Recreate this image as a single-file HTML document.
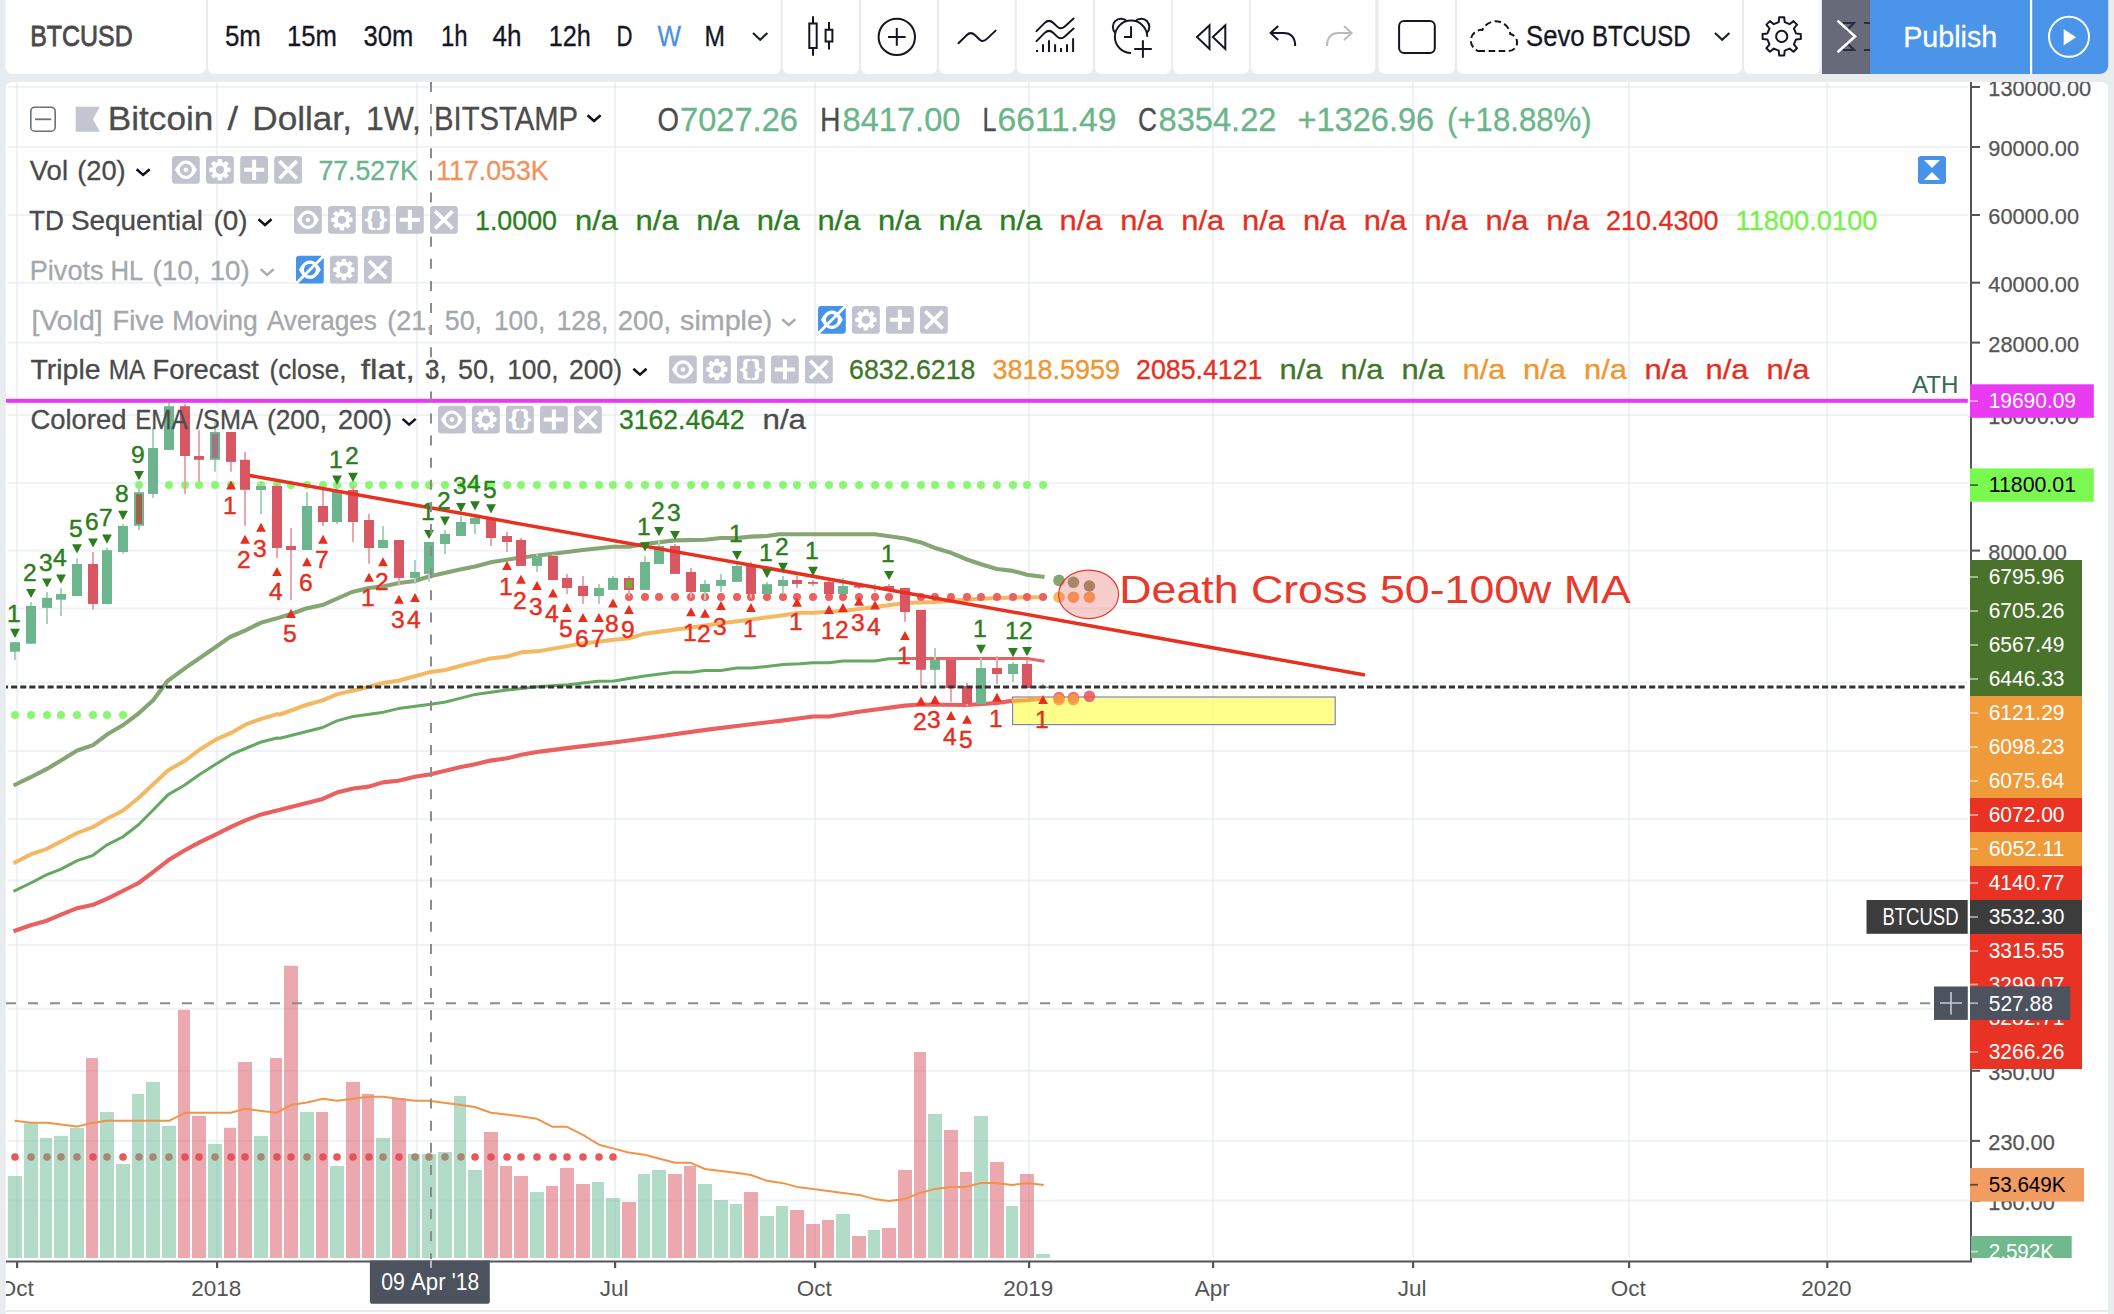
<!DOCTYPE html>
<html><head><meta charset="utf-8"><title>BTCUSD chart</title>
<style>
html,body{margin:0;padding:0;}
body{width:2114px;height:1314px;overflow:hidden;background:#e9ecef;font-family:'Liberation Sans', Arial, sans-serif;}
svg{display:block;position:absolute;left:0;top:0;}
text{font-family:'Liberation Sans', Arial, sans-serif;}
</style></head><body>
<svg width="2114" height="1314" viewBox="0 0 2114 1314">
<rect x="0" y="0" width="2114" height="1314" fill="#e9ecef"/>
<path d="M5.7 1314V88a6 6 0 0 1 6 -6H2102.1a6 6 0 0 1 6 6V1314z" fill="#fff"/>
<rect x="5.7" y="1310" width="2102.4" height="2.2" fill="#e9ecef"/>
<defs><clipPath id="cp"><rect x="6" y="82" width="1965" height="1177"/></clipPath><clipPath id="ca"><rect x="1971" y="82" width="137" height="1176"/></clipPath></defs>
<g clip-path="url(#cp)">
<rect x="7.5" y="86.0" width="1960.5" height="2" fill="#dfe8ee" fill-opacity="0.5"/>
<rect x="7.5" y="146.0" width="1960.5" height="2" fill="#dfe8ee" fill-opacity="0.5"/>
<rect x="7.5" y="214.0" width="1960.5" height="2" fill="#dfe8ee" fill-opacity="0.5"/>
<rect x="7.5" y="281.7" width="1960.5" height="2" fill="#dfe8ee" fill-opacity="0.5"/>
<rect x="7.5" y="341.6" width="1960.5" height="2" fill="#dfe8ee" fill-opacity="0.5"/>
<rect x="7.5" y="414.0" width="1960.5" height="2" fill="#dfe8ee" fill-opacity="0.5"/>
<rect x="7.5" y="482.0" width="1960.5" height="2" fill="#dfe8ee" fill-opacity="0.5"/>
<rect x="7.5" y="549.6" width="1960.5" height="2" fill="#dfe8ee" fill-opacity="0.5"/>
<rect x="7.5" y="607.5" width="1960.5" height="2" fill="#dfe8ee" fill-opacity="0.5"/>
<rect x="7.5" y="681.6" width="1960.5" height="2" fill="#dfe8ee" fill-opacity="0.5"/>
<rect x="7.5" y="750.0" width="1960.5" height="2" fill="#dfe8ee" fill-opacity="0.5"/>
<rect x="7.5" y="817.9" width="1960.5" height="2" fill="#dfe8ee" fill-opacity="0.5"/>
<rect x="7.5" y="879.6" width="1960.5" height="2" fill="#dfe8ee" fill-opacity="0.5"/>
<rect x="7.5" y="944.0" width="1960.5" height="2" fill="#dfe8ee" fill-opacity="0.5"/>
<rect x="7.5" y="1007.7" width="1960.5" height="2" fill="#dfe8ee" fill-opacity="0.5"/>
<rect x="7.5" y="1069.8" width="1960.5" height="2" fill="#dfe8ee" fill-opacity="0.5"/>
<rect x="7.5" y="1139.9" width="1960.5" height="2" fill="#dfe8ee" fill-opacity="0.5"/>
<rect x="7.5" y="1199.6" width="1960.5" height="2" fill="#dfe8ee" fill-opacity="0.5"/>
<rect x="16.0" y="82" width="2" height="1176" fill="#dfe8ee" fill-opacity="0.5"/>
<rect x="216.0" y="82" width="2" height="1176" fill="#dfe8ee" fill-opacity="0.5"/>
<rect x="416.0" y="82" width="2" height="1176" fill="#dfe8ee" fill-opacity="0.5"/>
<rect x="614.0" y="82" width="2" height="1176" fill="#dfe8ee" fill-opacity="0.5"/>
<rect x="814.0" y="82" width="2" height="1176" fill="#dfe8ee" fill-opacity="0.5"/>
<rect x="1028.0" y="82" width="2" height="1176" fill="#dfe8ee" fill-opacity="0.5"/>
<rect x="1212.0" y="82" width="2" height="1176" fill="#dfe8ee" fill-opacity="0.5"/>
<rect x="1412.0" y="82" width="2" height="1176" fill="#dfe8ee" fill-opacity="0.5"/>
<rect x="1628.0" y="82" width="2" height="1176" fill="#dfe8ee" fill-opacity="0.5"/>
<rect x="1826.2" y="82" width="2" height="1176" fill="#dfe8ee" fill-opacity="0.5"/>
<rect x="1012.6" y="697" width="322.6" height="27.6" fill="#ffff6e" fill-opacity="0.8" stroke="#7c83c9" stroke-width="1.2"/>
<circle cx="15.0" cy="1157" r="3.8" fill="#e8575a"/>
<circle cx="31.0" cy="1157" r="3.8" fill="#e8575a"/>
<circle cx="47.0" cy="1157" r="3.8" fill="#e8575a"/>
<circle cx="61.0" cy="1157" r="3.8" fill="#e8575a"/>
<circle cx="77.0" cy="1157" r="3.8" fill="#e8575a"/>
<circle cx="93.0" cy="1157" r="3.8" fill="#e8575a"/>
<circle cx="107.0" cy="1157" r="3.8" fill="#e8575a"/>
<circle cx="123.0" cy="1157" r="3.8" fill="#e8575a"/>
<circle cx="139.0" cy="1157" r="3.8" fill="#e8575a"/>
<circle cx="153.0" cy="1157" r="3.8" fill="#e8575a"/>
<circle cx="169.0" cy="1157" r="3.8" fill="#e8575a"/>
<circle cx="185.0" cy="1157" r="3.8" fill="#e8575a"/>
<circle cx="199.0" cy="1157" r="3.8" fill="#e8575a"/>
<circle cx="215.0" cy="1157" r="3.8" fill="#e8575a"/>
<circle cx="231.0" cy="1157" r="3.8" fill="#e8575a"/>
<circle cx="245.0" cy="1157" r="3.8" fill="#e8575a"/>
<circle cx="261.0" cy="1157" r="3.8" fill="#e8575a"/>
<circle cx="277.0" cy="1157" r="3.8" fill="#e8575a"/>
<circle cx="291.0" cy="1157" r="3.8" fill="#e8575a"/>
<circle cx="307.0" cy="1157" r="3.8" fill="#e8575a"/>
<circle cx="323.0" cy="1157" r="3.8" fill="#e8575a"/>
<circle cx="337.0" cy="1157" r="3.8" fill="#e8575a"/>
<circle cx="353.0" cy="1157" r="3.8" fill="#e8575a"/>
<circle cx="369.0" cy="1157" r="3.8" fill="#e8575a"/>
<circle cx="383.0" cy="1157" r="3.8" fill="#e8575a"/>
<circle cx="399.0" cy="1157" r="3.8" fill="#e8575a"/>
<circle cx="415.0" cy="1157" r="3.8" fill="#e8575a"/>
<circle cx="429.0" cy="1157" r="3.8" fill="#e8575a"/>
<circle cx="445.0" cy="1157" r="3.8" fill="#e8575a"/>
<circle cx="461.0" cy="1157" r="3.8" fill="#e8575a"/>
<circle cx="475.0" cy="1157" r="3.8" fill="#e8575a"/>
<circle cx="491.0" cy="1157" r="3.8" fill="#e8575a"/>
<circle cx="507.0" cy="1157" r="3.8" fill="#e8575a"/>
<circle cx="521.0" cy="1157" r="3.8" fill="#e8575a"/>
<circle cx="537.0" cy="1157" r="3.8" fill="#e8575a"/>
<circle cx="553.0" cy="1157" r="3.8" fill="#e8575a"/>
<circle cx="567.0" cy="1157" r="3.8" fill="#e8575a"/>
<circle cx="583.0" cy="1157" r="3.8" fill="#e8575a"/>
<circle cx="599.0" cy="1157" r="3.8" fill="#e8575a"/>
<circle cx="613.0" cy="1157" r="3.8" fill="#e8575a"/>
<rect x="8" y="1176.0" width="14" height="82.0" fill="#65b791" fill-opacity="0.5"/>
<rect x="24" y="1123.3" width="14" height="134.7" fill="#65b791" fill-opacity="0.5"/>
<rect x="40" y="1137.9" width="12" height="120.1" fill="#65b791" fill-opacity="0.5"/>
<rect x="54" y="1135.9" width="14" height="122.1" fill="#65b791" fill-opacity="0.5"/>
<rect x="70" y="1127.8" width="14" height="130.2" fill="#65b791" fill-opacity="0.5"/>
<rect x="86" y="1058.0" width="12" height="200.0" fill="#d7515f" fill-opacity="0.5"/>
<rect x="100" y="1112.0" width="14" height="146.0" fill="#65b791" fill-opacity="0.5"/>
<rect x="116" y="1164.0" width="14" height="94.0" fill="#65b791" fill-opacity="0.5"/>
<rect x="132" y="1093.9" width="12" height="164.1" fill="#65b791" fill-opacity="0.5"/>
<rect x="146" y="1081.9" width="14" height="176.1" fill="#65b791" fill-opacity="0.5"/>
<rect x="162" y="1125.8" width="14" height="132.2" fill="#65b791" fill-opacity="0.5"/>
<rect x="178" y="1009.8" width="12" height="248.2" fill="#d7515f" fill-opacity="0.5"/>
<rect x="192" y="1115.8" width="14" height="142.2" fill="#d7515f" fill-opacity="0.5"/>
<rect x="208" y="1143.9" width="14" height="114.1" fill="#65b791" fill-opacity="0.5"/>
<rect x="224" y="1127.8" width="12" height="130.2" fill="#d7515f" fill-opacity="0.5"/>
<rect x="238" y="1062.0" width="14" height="196.0" fill="#d7515f" fill-opacity="0.5"/>
<rect x="254" y="1135.9" width="14" height="122.1" fill="#65b791" fill-opacity="0.5"/>
<rect x="270" y="1058.0" width="12" height="200.0" fill="#d7515f" fill-opacity="0.5"/>
<rect x="284" y="965.8" width="14" height="292.2" fill="#d7515f" fill-opacity="0.5"/>
<rect x="300" y="1112.0" width="14" height="146.0" fill="#65b791" fill-opacity="0.5"/>
<rect x="316" y="1112.0" width="12" height="146.0" fill="#d7515f" fill-opacity="0.5"/>
<rect x="330" y="1166.0" width="14" height="92.0" fill="#65b791" fill-opacity="0.5"/>
<rect x="346" y="1081.9" width="14" height="176.1" fill="#d7515f" fill-opacity="0.5"/>
<rect x="362" y="1093.9" width="12" height="164.1" fill="#d7515f" fill-opacity="0.5"/>
<rect x="376" y="1137.9" width="14" height="120.1" fill="#65b791" fill-opacity="0.5"/>
<rect x="392" y="1098.2" width="14" height="159.8" fill="#d7515f" fill-opacity="0.5"/>
<rect x="408" y="1154.0" width="12" height="104.0" fill="#65b791" fill-opacity="0.5"/>
<rect x="422" y="1154.0" width="14" height="104.0" fill="#65b791" fill-opacity="0.5"/>
<rect x="438" y="1152.0" width="14" height="106.0" fill="#65b791" fill-opacity="0.5"/>
<rect x="454" y="1095.9" width="12" height="162.1" fill="#65b791" fill-opacity="0.5"/>
<rect x="468" y="1170.0" width="14" height="88.0" fill="#65b791" fill-opacity="0.5"/>
<rect x="484" y="1132.0" width="14" height="126.0" fill="#d7515f" fill-opacity="0.5"/>
<rect x="500" y="1166.0" width="12" height="92.0" fill="#d7515f" fill-opacity="0.5"/>
<rect x="514" y="1176.0" width="14" height="82.0" fill="#d7515f" fill-opacity="0.5"/>
<rect x="530" y="1192.0" width="14" height="66.0" fill="#65b791" fill-opacity="0.5"/>
<rect x="546" y="1186.0" width="12" height="72.0" fill="#d7515f" fill-opacity="0.5"/>
<rect x="560" y="1168.0" width="14" height="90.0" fill="#d7515f" fill-opacity="0.5"/>
<rect x="576" y="1184.0" width="14" height="74.0" fill="#d7515f" fill-opacity="0.5"/>
<rect x="592" y="1182.0" width="12" height="76.0" fill="#65b791" fill-opacity="0.5"/>
<rect x="606" y="1198.0" width="14" height="60.0" fill="#65b791" fill-opacity="0.5"/>
<rect x="622" y="1202.0" width="14" height="56.0" fill="#d7515f" fill-opacity="0.5"/>
<rect x="638" y="1174.0" width="12" height="84.0" fill="#65b791" fill-opacity="0.5"/>
<rect x="652" y="1170.0" width="14" height="88.0" fill="#65b791" fill-opacity="0.5"/>
<rect x="668" y="1174.0" width="14" height="84.0" fill="#d7515f" fill-opacity="0.5"/>
<rect x="684" y="1166.0" width="12" height="92.0" fill="#d7515f" fill-opacity="0.5"/>
<rect x="698" y="1184.0" width="14" height="74.0" fill="#65b791" fill-opacity="0.5"/>
<rect x="714" y="1200.0" width="14" height="58.0" fill="#65b791" fill-opacity="0.5"/>
<rect x="730" y="1204.0" width="12" height="54.0" fill="#65b791" fill-opacity="0.5"/>
<rect x="744" y="1192.0" width="14" height="66.0" fill="#d7515f" fill-opacity="0.5"/>
<rect x="760" y="1216.0" width="14" height="42.0" fill="#65b791" fill-opacity="0.5"/>
<rect x="776" y="1206.0" width="12" height="52.0" fill="#65b791" fill-opacity="0.5"/>
<rect x="790" y="1210.0" width="14" height="48.0" fill="#d7515f" fill-opacity="0.5"/>
<rect x="806" y="1224.0" width="14" height="34.0" fill="#d7515f" fill-opacity="0.5"/>
<rect x="822" y="1220.0" width="12" height="38.0" fill="#d7515f" fill-opacity="0.5"/>
<rect x="836" y="1214.0" width="14" height="44.0" fill="#65b791" fill-opacity="0.5"/>
<rect x="852" y="1236.0" width="14" height="22.0" fill="#d7515f" fill-opacity="0.5"/>
<rect x="868" y="1230.0" width="12" height="28.0" fill="#65b791" fill-opacity="0.5"/>
<rect x="882" y="1228.0" width="14" height="30.0" fill="#d7515f" fill-opacity="0.5"/>
<rect x="898" y="1170.0" width="14" height="88.0" fill="#d7515f" fill-opacity="0.5"/>
<rect x="914" y="1052.0" width="12" height="206.0" fill="#d7515f" fill-opacity="0.5"/>
<rect x="928" y="1114.0" width="14" height="144.0" fill="#65b791" fill-opacity="0.5"/>
<rect x="944" y="1130.0" width="14" height="128.0" fill="#d7515f" fill-opacity="0.5"/>
<rect x="960" y="1172.0" width="12" height="86.0" fill="#d7515f" fill-opacity="0.5"/>
<rect x="974" y="1116.0" width="14" height="142.0" fill="#65b791" fill-opacity="0.5"/>
<rect x="990" y="1162.0" width="14" height="96.0" fill="#d7515f" fill-opacity="0.5"/>
<rect x="1006" y="1206.0" width="12" height="52.0" fill="#65b791" fill-opacity="0.5"/>
<rect x="1020" y="1174.0" width="14" height="84.0" fill="#d7515f" fill-opacity="0.5"/>
<rect x="1036" y="1254.0" width="14" height="4.0" fill="#65b791" fill-opacity="0.5"/>
<polyline points="14.6,1120.8 30.9,1122.8 47.0,1122.8 76.9,1126.6 93.0,1122.8 107.0,1120.8 169.0,1120.8 185.0,1112.8 231.0,1112.8 245.0,1108.8 276.3,1112.8 290.9,1105.0 307.0,1102.5 323.0,1098.7 336.9,1100.7 353.0,1098.7 369.0,1096.7 382.8,1096.7 398.9,1098.7 415.0,1100.7 428.8,1100.7 461.0,1105.0 474.8,1107.0 490.8,1112.8 520.0,1116.3 537.0,1118.8 552.7,1126.8 567.0,1126.8 582.8,1134.9 599.0,1144.7 613.0,1148.4 628.5,1152.5 644.8,1154.7 660.7,1159.0 675.0,1162.8 690.8,1162.8 705.0,1169.0 721.0,1171.0 736.0,1172.8 751.0,1175.0 767.0,1180.8 782.0,1182.9 797.0,1186.9 813.0,1188.9 828.0,1190.9 843.0,1192.9 859.0,1194.9 874.0,1198.9 889.0,1200.9 905.0,1198.9 920.0,1192.9 935.0,1188.9 951.0,1186.9 966.0,1186.9 981.0,1183.0 996.0,1183.0 1012.0,1185.0 1027.0,1183.0 1043.7,1185.0" fill="none" stroke="#f0944a" stroke-width="2" stroke-linejoin="round" stroke-linecap="butt"/>
<circle cx="15.0" cy="715" r="4" fill="#88f96c"/>
<circle cx="31.0" cy="715" r="4" fill="#88f96c"/>
<circle cx="47.0" cy="715" r="4" fill="#88f96c"/>
<circle cx="61.0" cy="715" r="4" fill="#88f96c"/>
<circle cx="77.0" cy="715" r="4" fill="#88f96c"/>
<circle cx="93.0" cy="715" r="4" fill="#88f96c"/>
<circle cx="107.0" cy="715" r="4" fill="#88f96c"/>
<circle cx="123.0" cy="715" r="4" fill="#88f96c"/>
<circle cx="139.0" cy="485" r="4" fill="#88f96c"/>
<circle cx="153.0" cy="485" r="4" fill="#88f96c"/>
<circle cx="169.0" cy="485" r="4" fill="#88f96c"/>
<circle cx="185.0" cy="485" r="4" fill="#88f96c"/>
<circle cx="199.0" cy="485" r="4" fill="#88f96c"/>
<circle cx="215.0" cy="485" r="4" fill="#88f96c"/>
<circle cx="231.0" cy="485" r="4" fill="#88f96c"/>
<circle cx="245.0" cy="485" r="4" fill="#88f96c"/>
<circle cx="261.0" cy="485" r="4" fill="#88f96c"/>
<circle cx="277.0" cy="485" r="4" fill="#88f96c"/>
<circle cx="291.0" cy="485" r="4" fill="#88f96c"/>
<circle cx="307.0" cy="485" r="4" fill="#88f96c"/>
<circle cx="323.0" cy="485" r="4" fill="#88f96c"/>
<circle cx="337.0" cy="485" r="4" fill="#88f96c"/>
<circle cx="353.0" cy="485" r="4" fill="#88f96c"/>
<circle cx="369.0" cy="485" r="4" fill="#88f96c"/>
<circle cx="383.0" cy="485" r="4" fill="#88f96c"/>
<circle cx="399.0" cy="485" r="4" fill="#88f96c"/>
<circle cx="415.0" cy="485" r="4" fill="#88f96c"/>
<circle cx="429.0" cy="485" r="4" fill="#88f96c"/>
<circle cx="445.0" cy="485" r="4" fill="#88f96c"/>
<circle cx="461.0" cy="485" r="4" fill="#88f96c"/>
<circle cx="475.0" cy="485" r="4" fill="#88f96c"/>
<circle cx="491.0" cy="485" r="4" fill="#88f96c"/>
<circle cx="507.0" cy="485" r="4" fill="#88f96c"/>
<circle cx="521.0" cy="485" r="4" fill="#88f96c"/>
<circle cx="537.0" cy="485" r="4" fill="#88f96c"/>
<circle cx="553.0" cy="485" r="4" fill="#88f96c"/>
<circle cx="567.0" cy="485" r="4" fill="#88f96c"/>
<circle cx="583.0" cy="485" r="4" fill="#88f96c"/>
<circle cx="599.0" cy="485" r="4" fill="#88f96c"/>
<circle cx="613.0" cy="485" r="4" fill="#88f96c"/>
<circle cx="629.0" cy="485" r="4" fill="#88f96c"/>
<circle cx="645.0" cy="485" r="4" fill="#88f96c"/>
<circle cx="659.0" cy="485" r="4" fill="#88f96c"/>
<circle cx="675.0" cy="485" r="4" fill="#88f96c"/>
<circle cx="691.0" cy="485" r="4" fill="#88f96c"/>
<circle cx="705.0" cy="485" r="4" fill="#88f96c"/>
<circle cx="721.0" cy="485" r="4" fill="#88f96c"/>
<circle cx="737.0" cy="485" r="4" fill="#88f96c"/>
<circle cx="751.0" cy="485" r="4" fill="#88f96c"/>
<circle cx="767.0" cy="485" r="4" fill="#88f96c"/>
<circle cx="783.0" cy="485" r="4" fill="#88f96c"/>
<circle cx="797.0" cy="485" r="4" fill="#88f96c"/>
<circle cx="813.0" cy="485" r="4" fill="#88f96c"/>
<circle cx="829.0" cy="485" r="4" fill="#88f96c"/>
<circle cx="843.0" cy="485" r="4" fill="#88f96c"/>
<circle cx="859.0" cy="485" r="4" fill="#88f96c"/>
<circle cx="875.0" cy="485" r="4" fill="#88f96c"/>
<circle cx="889.0" cy="485" r="4" fill="#88f96c"/>
<circle cx="905.0" cy="485" r="4" fill="#88f96c"/>
<circle cx="921.0" cy="485" r="4" fill="#88f96c"/>
<circle cx="935.0" cy="485" r="4" fill="#88f96c"/>
<circle cx="951.0" cy="485" r="4" fill="#88f96c"/>
<circle cx="967.0" cy="485" r="4" fill="#88f96c"/>
<circle cx="981.0" cy="485" r="4" fill="#88f96c"/>
<circle cx="997.0" cy="485" r="4" fill="#88f96c"/>
<circle cx="1013.0" cy="485" r="4" fill="#88f96c"/>
<circle cx="1027.0" cy="485" r="4" fill="#88f96c"/>
<circle cx="1043.0" cy="485" r="4" fill="#88f96c"/>
<polyline points="13.5,785.5 30.7,777.2 46.9,768.9 61.0,760.4 77.2,750.5 93.0,745.1 106.9,734.6 122.7,725.3 138.5,713.5 153.4,700.0 167.5,681.0 190.0,664.7 215.0,647.5 230.0,637.0 245.5,630.4 260.7,622.8 276.0,618.6 291.0,614.0 306.0,608.5 323.5,604.7 352.0,592.0 369.0,588.0 383.0,586.4 399.0,583.0 415.0,581.0 429.0,576.5 460.0,569.5 475.0,566.5 492.0,562.0 521.0,557.5 553.0,553.7 583.0,550.0 613.0,546.7 629.0,546.7 645.0,544.0 659.0,542.3 675.0,540.4 705.0,539.8 721.0,538.0 737.0,538.0 751.0,536.6 767.0,536.0 779.0,534.2 875.0,534.2 905.0,538.5 921.0,542.4 935.0,548.0 951.0,552.8 967.0,559.5 981.0,564.2 997.0,569.0 1013.0,570.9 1027.0,574.7 1044.5,577.0" fill="none" stroke="#85a573" stroke-width="4.1" stroke-linejoin="round" stroke-linecap="butt"/>
<polyline points="13.5,863.3 30.7,854.4 46.9,848.8 61.0,841.5 77.2,833.0 93.0,827.0 106.9,818.7 122.7,810.8 138.5,798.0 152.4,785.0 168.2,770.3 184.0,761.3 199.9,749.5 215.7,739.6 231.5,732.7 245.4,724.7 261.2,718.8 277.0,714.2 280.0,714.5 306.0,705.0 322.6,700.3 336.8,694.4 367.5,687.3 382.9,683.0 398.3,680.7 430.7,671.9 445.6,670.0 459.8,666.0 490.5,658.4 507.0,656.6 521.2,652.3 540.0,650.9 564.6,646.6 581.8,643.5 597.8,641.7 613.8,639.8 629.8,638.2 644.6,633.7 663.0,631.2 691.3,627.5 720.8,623.2 751.6,619.5 783.5,615.2 800.0,612.8 813.0,612.8 843.0,610.9 875.0,607.0 905.0,603.0 935.0,601.9 967.0,599.4 997.0,597.9 1027.0,597.2 1043.0,597.2" fill="none" stroke="#f5b862" stroke-width="4.0" stroke-linejoin="round" stroke-linecap="butt"/>
<polyline points="13.5,891.4 30.7,883.0 46.9,874.6 61.0,869.2 77.2,860.7 93.0,855.3 106.9,844.9 122.7,837.0 138.5,824.7 152.4,810.8 168.2,794.6 184.0,785.5 199.9,774.2 215.7,764.3 231.5,754.4 245.4,748.5 261.2,742.0 277.0,738.0 280.0,738.2 322.6,727.5 336.8,720.9 353.3,716.4 381.7,712.6 398.3,708.6 430.7,704.3 445.6,702.0 459.8,698.4 475.1,694.4 507.0,690.1 540.0,686.6 568.3,684.7 597.8,681.3 613.8,681.0 644.6,676.1 674.0,672.2 691.3,672.2 704.8,670.6 720.8,670.6 736.8,668.1 751.6,668.1 783.5,664.4 800.0,663.8 813.0,662.8 829.0,662.8 843.0,661.0 875.0,661.0 889.0,658.8 903.7,658.4" fill="none" stroke="#65a861" stroke-width="3.0" stroke-linejoin="round" stroke-linecap="butt"/>
<polyline points="903.7,658.4 1027.0,658.4 1044.5,661.3" fill="none" stroke="#ea6262" stroke-width="3.0" stroke-linejoin="round" stroke-linecap="butt"/>
<polyline points="13.5,931.2 30.7,925.2 46.9,920.7 61.0,914.7 77.2,908.2 93.0,904.8 106.9,898.9 122.7,891.0 138.5,883.0 152.4,872.6 168.2,860.3 184.0,850.8 199.9,842.1 215.7,834.6 231.5,826.7 245.4,820.3 261.2,814.4 277.0,810.4 280.0,809.8 322.6,798.9 336.8,792.6 353.3,788.5 368.7,786.6 382.9,782.4 398.3,780.7 414.8,776.7 430.7,774.3 459.8,767.2 475.1,764.2 490.5,760.6 507.0,758.3 521.2,754.7 540.0,751.6 571.0,747.6 615.9,742.2 658.4,736.5 705.7,729.9 753.0,724.0 780.0,720.9 813.0,716.5 829.0,716.5 859.0,711.7 905.0,705.6 921.0,704.5 967.0,705.0 997.0,703.0 1012.0,700.9" fill="none" stroke="#eb5f5f" stroke-width="4.1" stroke-linejoin="round" stroke-linecap="butt"/>
<polyline points="1012.0,700.9 1027.0,700.3 1043.0,698.4" fill="none" stroke="#f5a742" stroke-width="4.1" stroke-linejoin="round" stroke-linecap="butt"/>
<circle cx="629.0" cy="597" r="4" fill="#ec6060"/>
<circle cx="645.0" cy="597" r="4" fill="#ec6060"/>
<circle cx="659.0" cy="597" r="4" fill="#ec6060"/>
<circle cx="675.0" cy="597" r="4" fill="#ec6060"/>
<circle cx="691.0" cy="597" r="4" fill="#ec6060"/>
<circle cx="705.0" cy="597" r="4" fill="#ec6060"/>
<circle cx="721.0" cy="597" r="4" fill="#ec6060"/>
<circle cx="737.0" cy="597" r="4" fill="#ec6060"/>
<circle cx="751.0" cy="597" r="4" fill="#ec6060"/>
<circle cx="767.0" cy="597" r="4" fill="#ec6060"/>
<circle cx="783.0" cy="597" r="4" fill="#ec6060"/>
<circle cx="797.0" cy="597" r="4" fill="#ec6060"/>
<circle cx="813.0" cy="597" r="4" fill="#ec6060"/>
<circle cx="829.0" cy="597" r="4" fill="#ec6060"/>
<circle cx="843.0" cy="597" r="4" fill="#ec6060"/>
<circle cx="859.0" cy="597" r="4" fill="#ec6060"/>
<circle cx="875.0" cy="597" r="4" fill="#ec6060"/>
<circle cx="889.0" cy="597" r="4" fill="#ec6060"/>
<circle cx="905.0" cy="597" r="4" fill="#ec6060"/>
<circle cx="921.0" cy="597" r="4" fill="#ec6060"/>
<circle cx="935.0" cy="597" r="4" fill="#ec6060"/>
<circle cx="951.0" cy="597" r="4" fill="#ec6060"/>
<circle cx="967.0" cy="597" r="4" fill="#ec6060"/>
<circle cx="981.0" cy="597" r="4" fill="#ec6060"/>
<circle cx="997.0" cy="597" r="4" fill="#ec6060"/>
<circle cx="1013.0" cy="597" r="4" fill="#ec6060"/>
<circle cx="1027.0" cy="597" r="4" fill="#ec6060"/>
<circle cx="1043.0" cy="597" r="4" fill="#ec6060"/>
<rect x="14.0" y="642.2" width="2" height="17.7" fill="#a8d3bc"/>
<rect x="10" y="642.2" width="10" height="9.5" fill="#6db58c"/>
<rect x="30.0" y="602.2" width="2" height="41.5" fill="#a8d3bc"/>
<rect x="26" y="606.0" width="10" height="37.7" fill="#6db58c"/>
<rect x="46.0" y="592.0" width="2" height="32.0" fill="#a8d3bc"/>
<rect x="42" y="597.8" width="10" height="10.1" fill="#6db58c"/>
<rect x="60.0" y="588.0" width="2" height="28.0" fill="#a8d3bc"/>
<rect x="56" y="594.0" width="10" height="5.7" fill="#6db58c"/>
<rect x="76.0" y="558.4" width="2" height="37.6" fill="#a8d3bc"/>
<rect x="72" y="564.0" width="10" height="32.0" fill="#6db58c"/>
<rect x="92.0" y="552.0" width="2" height="57.8" fill="#eba5ac"/>
<rect x="88" y="564.0" width="10" height="40.0" fill="#d95762"/>
<rect x="106.0" y="548.0" width="2" height="56.0" fill="#a8d3bc"/>
<rect x="102" y="550.2" width="10" height="53.8" fill="#6db58c"/>
<rect x="122.0" y="524.0" width="2" height="29.7" fill="#a8d3bc"/>
<rect x="118" y="526.0" width="10" height="26.0" fill="#6db58c"/>
<rect x="138.0" y="484.0" width="2" height="46.0" fill="#a8d3bc"/>
<rect x="135" y="493.2" width="8" height="31.6" fill="#a3604a" stroke="#6db58c" stroke-width="2"/>
<rect x="152.0" y="428.0" width="2" height="69.8" fill="#a8d3bc"/>
<rect x="148" y="448.0" width="10" height="45.9" fill="#6db58c"/>
<rect x="168.0" y="399.8" width="2" height="50.1" fill="#a8d3bc"/>
<rect x="164" y="406.2" width="10" height="43.7" fill="#6db58c"/>
<rect x="184.0" y="404.0" width="2" height="89.9" fill="#eba5ac"/>
<rect x="180" y="406.2" width="10" height="49.8" fill="#d95762"/>
<rect x="198.0" y="430.2" width="2" height="51.6" fill="#eba5ac"/>
<rect x="194" y="456.0" width="10" height="3.8" fill="#d95762"/>
<rect x="214.0" y="422.2" width="2" height="49.5" fill="#a8d3bc"/>
<rect x="211" y="433.0" width="8" height="25.8" fill="#a07482" stroke="#6db58c" stroke-width="2"/>
<rect x="230.0" y="432.0" width="2" height="39.7" fill="#eba5ac"/>
<rect x="226" y="432.0" width="10" height="29.9" fill="#d95762"/>
<rect x="244.0" y="452.0" width="2" height="73.8" fill="#eba5ac"/>
<rect x="240" y="459.8" width="10" height="30.0" fill="#d95762"/>
<rect x="260.0" y="482.0" width="2" height="32.0" fill="#a8d3bc"/>
<rect x="256" y="486.0" width="10" height="4.0" fill="#6db58c"/>
<rect x="276.0" y="484.0" width="2" height="74.0" fill="#eba5ac"/>
<rect x="272" y="486.0" width="10" height="62.0" fill="#d95762"/>
<rect x="290.0" y="528.0" width="2" height="72.0" fill="#eba5ac"/>
<rect x="286" y="546.0" width="10" height="4.0" fill="#d95762"/>
<rect x="306.0" y="492.0" width="2" height="58.0" fill="#a8d3bc"/>
<rect x="302" y="506.0" width="10" height="44.0" fill="#6db58c"/>
<rect x="322.0" y="486.0" width="2" height="40.0" fill="#eba5ac"/>
<rect x="318" y="506.0" width="10" height="16.0" fill="#d95762"/>
<rect x="336.0" y="484.0" width="2" height="39.8" fill="#a8d3bc"/>
<rect x="332" y="490.3" width="10" height="31.7" fill="#6db58c"/>
<rect x="352.0" y="486.0" width="2" height="56.0" fill="#eba5ac"/>
<rect x="348" y="490.0" width="10" height="32.0" fill="#d95762"/>
<rect x="368.0" y="514.0" width="2" height="49.7" fill="#eba5ac"/>
<rect x="364" y="520.0" width="10" height="28.0" fill="#d95762"/>
<rect x="382.0" y="526.0" width="2" height="22.0" fill="#a8d3bc"/>
<rect x="378" y="540.0" width="10" height="8.0" fill="#6db58c"/>
<rect x="398.0" y="540.0" width="2" height="45.5" fill="#eba5ac"/>
<rect x="394" y="540.0" width="10" height="37.9" fill="#d95762"/>
<rect x="414.0" y="560.0" width="2" height="23.8" fill="#a8d3bc"/>
<rect x="410" y="572.0" width="10" height="5.9" fill="#6db58c"/>
<rect x="428.0" y="542.0" width="2" height="39.7" fill="#a8d3bc"/>
<rect x="424" y="542.0" width="10" height="31.9" fill="#6db58c"/>
<rect x="444.0" y="530.0" width="2" height="24.0" fill="#a8d3bc"/>
<rect x="440" y="534.0" width="10" height="10.0" fill="#6db58c"/>
<rect x="460.0" y="516.0" width="2" height="20.0" fill="#a8d3bc"/>
<rect x="456" y="522.0" width="10" height="14.0" fill="#6db58c"/>
<rect x="474.0" y="514.0" width="2" height="20.0" fill="#a8d3bc"/>
<rect x="470" y="518.0" width="10" height="6.0" fill="#6db58c"/>
<rect x="490.0" y="518.0" width="2" height="28.0" fill="#eba5ac"/>
<rect x="486" y="518.0" width="10" height="20.0" fill="#d95762"/>
<rect x="506.0" y="532.0" width="2" height="20.0" fill="#eba5ac"/>
<rect x="502" y="536.0" width="10" height="6.0" fill="#d95762"/>
<rect x="520.0" y="538.0" width="2" height="27.9" fill="#eba5ac"/>
<rect x="516" y="540.0" width="10" height="25.9" fill="#d95762"/>
<rect x="536.0" y="554.0" width="2" height="18.0" fill="#a8d3bc"/>
<rect x="532" y="556.0" width="10" height="9.9" fill="#6db58c"/>
<rect x="552.0" y="554.0" width="2" height="26.0" fill="#eba5ac"/>
<rect x="548" y="556.0" width="10" height="24.0" fill="#d95762"/>
<rect x="566.0" y="573.9" width="2" height="20.1" fill="#eba5ac"/>
<rect x="562" y="577.9" width="10" height="10.1" fill="#d95762"/>
<rect x="582.0" y="576.0" width="2" height="28.0" fill="#eba5ac"/>
<rect x="578" y="585.9" width="10" height="10.1" fill="#d95762"/>
<rect x="598.0" y="584.0" width="2" height="20.0" fill="#a8d3bc"/>
<rect x="594" y="588.0" width="10" height="8.0" fill="#6db58c"/>
<rect x="612.0" y="576.0" width="2" height="13.9" fill="#a8d3bc"/>
<rect x="608" y="577.9" width="10" height="12.0" fill="#6db58c"/>
<rect x="628.0" y="576.0" width="2" height="20.0" fill="#eba5ac"/>
<rect x="625" y="579.0" width="8" height="10.0" fill="#7da83a" stroke="#d95762" stroke-width="2"/>
<rect x="644.0" y="556.0" width="2" height="33.9" fill="#a8d3bc"/>
<rect x="640" y="561.9" width="10" height="28.0" fill="#6db58c"/>
<rect x="658.0" y="540.0" width="2" height="24.0" fill="#a8d3bc"/>
<rect x="654" y="546.0" width="10" height="18.0" fill="#6db58c"/>
<rect x="674.0" y="544.0" width="2" height="29.9" fill="#eba5ac"/>
<rect x="670" y="546.0" width="10" height="27.9" fill="#d95762"/>
<rect x="690.0" y="568.0" width="2" height="30.0" fill="#eba5ac"/>
<rect x="686" y="572.0" width="10" height="20.0" fill="#d95762"/>
<rect x="704.0" y="580.0" width="2" height="20.0" fill="#a8d3bc"/>
<rect x="700" y="584.0" width="10" height="8.0" fill="#6db58c"/>
<rect x="720.0" y="573.9" width="2" height="18.1" fill="#a8d3bc"/>
<rect x="716" y="580.0" width="10" height="5.9" fill="#6db58c"/>
<rect x="736.0" y="564.0" width="2" height="17.9" fill="#a8d3bc"/>
<rect x="732" y="565.9" width="10" height="16.0" fill="#6db58c"/>
<rect x="750.0" y="562.0" width="2" height="36.0" fill="#eba5ac"/>
<rect x="746" y="565.9" width="10" height="28.1" fill="#d95762"/>
<rect x="766.0" y="582.0" width="2" height="12.0" fill="#a8d3bc"/>
<rect x="762" y="584.2" width="10" height="9.8" fill="#6db58c"/>
<rect x="782.0" y="576.0" width="2" height="18.0" fill="#a8d3bc"/>
<rect x="778" y="580.0" width="10" height="6.0" fill="#6db58c"/>
<rect x="796.0" y="576.0" width="2" height="12.0" fill="#eba5ac"/>
<rect x="792" y="580.0" width="10" height="4.0" fill="#d95762"/>
<rect x="812.0" y="580.0" width="2" height="6.0" fill="#eba5ac"/>
<rect x="808" y="582.0" width="10" height="1.8" fill="#d95762"/>
<rect x="828.0" y="580.0" width="2" height="14.0" fill="#eba5ac"/>
<rect x="824" y="582.0" width="10" height="12.0" fill="#d95762"/>
<rect x="842.0" y="578.0" width="2" height="16.0" fill="#a8d3bc"/>
<rect x="838" y="586.0" width="10" height="8.0" fill="#6db58c"/>
<rect x="858.0" y="583.0" width="2" height="6.0" fill="#eba5ac"/>
<rect x="854" y="585.7" width="10" height="1.9" fill="#d95762"/>
<rect x="874.0" y="584.0" width="2" height="7.8" fill="#a8d3bc"/>
<rect x="870" y="586.0" width="10" height="1.8" fill="#6db58c"/>
<rect x="888.0" y="584.0" width="2" height="6.0" fill="#eba5ac"/>
<rect x="884" y="586.0" width="10" height="4.0" fill="#d95762"/>
<rect x="904.0" y="588.0" width="2" height="33.9" fill="#eba5ac"/>
<rect x="900" y="588.0" width="10" height="24.0" fill="#d95762"/>
<rect x="920.0" y="609.9" width="2" height="78.1" fill="#eba5ac"/>
<rect x="916" y="609.9" width="10" height="59.9" fill="#d95762"/>
<rect x="934.0" y="648.0" width="2" height="38.0" fill="#a8d3bc"/>
<rect x="930" y="660.0" width="10" height="9.8" fill="#6db58c"/>
<rect x="950.0" y="660.0" width="2" height="41.8" fill="#eba5ac"/>
<rect x="946" y="660.0" width="10" height="28.0" fill="#d95762"/>
<rect x="966.0" y="683.0" width="2" height="23.0" fill="#eba5ac"/>
<rect x="962" y="686.0" width="10" height="18.0" fill="#d95762"/>
<rect x="980.0" y="658.0" width="2" height="46.0" fill="#a8d3bc"/>
<rect x="976" y="668.0" width="10" height="36.0" fill="#6db58c"/>
<rect x="996.0" y="656.0" width="2" height="28.0" fill="#eba5ac"/>
<rect x="992" y="668.0" width="10" height="6.0" fill="#d95762"/>
<rect x="1012.0" y="662.0" width="2" height="20.0" fill="#a8d3bc"/>
<rect x="1008" y="664.0" width="10" height="10.0" fill="#6db58c"/>
<rect x="1026.0" y="660.0" width="2" height="28.0" fill="#eba5ac"/>
<rect x="1022" y="664.0" width="10" height="24.0" fill="#d95762"/>
<rect x="1042.0" y="684.0" width="2" height="4.0" fill="#a8d3bc"/>
<rect x="1038" y="686.5" width="10" height="1.5" fill="#6db58c"/>
<line x1="249.8" y1="475.5" x2="1365" y2="675" stroke="#e92f1e" stroke-width="3.5"/>
<circle cx="1059" cy="580.4" r="5.8" fill="#6f9658" fill-opacity="0.85"/>
<circle cx="1073.4" cy="582.3" r="5.8" fill="#7a8a50" fill-opacity="0.85"/>
<circle cx="1089.4" cy="586" r="5.8" fill="#808048" fill-opacity="0.85"/>
<circle cx="1059" cy="597.2" r="5.8" fill="#f5a83a" fill-opacity="0.8"/>
<circle cx="1073.4" cy="597.2" r="5.8" fill="#f39436" fill-opacity="0.85"/>
<circle cx="1089.4" cy="597.2" r="5.8" fill="#f39436" fill-opacity="0.85"/>
<circle cx="1059" cy="697.6" r="5.8" fill="#ea5a5a" fill-opacity="0.9"/>
<circle cx="1073.4" cy="697.6" r="5.8" fill="#ea5a5a" fill-opacity="0.9"/>
<circle cx="1089.4" cy="696.3" r="5.8" fill="#ea5a5a" fill-opacity="0.9"/>
<circle cx="1059" cy="699.6" r="5.8" fill="#f5a040" fill-opacity="0.85"/>
<circle cx="1073.4" cy="699.6" r="5.8" fill="#f5a040" fill-opacity="0.85"/>
<ellipse cx="1088.6" cy="594.4" rx="30" ry="24.2" fill="#e85a5a" fill-opacity="0.3" stroke="#e8392b" stroke-width="1.2"/>
<line x1="1964.6" y1="687" x2="6" y2="687" stroke="#333" stroke-width="3" stroke-dasharray="6.1 3"/>
<path d="M10.1 628.8h9.8l-4.9 9.2z" fill="#2c7d1d"/>
<text x="13.8" y="622.2" font-size="24.6" fill="#2c7d1d" text-anchor="middle" stroke="#2c7d1d" stroke-width="0.45">1</text>
<path d="M26.1 588.9h9.8l-4.9 9.2z" fill="#2c7d1d"/>
<text x="29.8" y="581.3" font-size="24.6" fill="#2c7d1d" text-anchor="middle" stroke="#2c7d1d" stroke-width="0.45">2</text>
<path d="M42.1 578.4h9.8l-4.9 9.2z" fill="#2c7d1d"/>
<text x="45.8" y="570.8" font-size="24.6" fill="#2c7d1d" text-anchor="middle" stroke="#2c7d1d" stroke-width="0.45">3</text>
<path d="M56.1 574.6h9.8l-4.9 9.2z" fill="#2c7d1d"/>
<text x="59.8" y="566.1" font-size="24.6" fill="#2c7d1d" text-anchor="middle" stroke="#2c7d1d" stroke-width="0.45">4</text>
<path d="M72.1 544.2h9.8l-4.9 9.2z" fill="#2c7d1d"/>
<text x="75.8" y="536.6" font-size="24.6" fill="#2c7d1d" text-anchor="middle" stroke="#2c7d1d" stroke-width="0.45">5</text>
<path d="M88.1 538.4h9.8l-4.9 9.2z" fill="#2c7d1d"/>
<text x="91.8" y="529.9" font-size="24.6" fill="#2c7d1d" text-anchor="middle" stroke="#2c7d1d" stroke-width="0.45">6</text>
<path d="M102.1 534.6h9.8l-4.9 9.2z" fill="#2c7d1d"/>
<text x="105.8" y="526.1" font-size="24.6" fill="#2c7d1d" text-anchor="middle" stroke="#2c7d1d" stroke-width="0.45">7</text>
<path d="M118.1 510.8h9.8l-4.9 9.2z" fill="#2c7d1d"/>
<text x="121.8" y="502.3" font-size="24.6" fill="#2c7d1d" text-anchor="middle" stroke="#2c7d1d" stroke-width="0.45">8</text>
<path d="M134.1 471.1h9.8l-4.9 9.2z" fill="#2c7d1d"/>
<text x="137.8" y="462.7" font-size="24.6" fill="#2c7d1d" text-anchor="middle" stroke="#2c7d1d" stroke-width="0.45">9</text>
<path d="M332.1 475.6h9.8l-4.9 9.2z" fill="#2c7d1d"/>
<text x="335.8" y="468.1" font-size="24.6" fill="#2c7d1d" text-anchor="middle" stroke="#2c7d1d" stroke-width="0.45">1</text>
<path d="M348.1 472.8h9.8l-4.9 9.2z" fill="#2c7d1d"/>
<text x="351.8" y="464.3" font-size="24.6" fill="#2c7d1d" text-anchor="middle" stroke="#2c7d1d" stroke-width="0.45">2</text>
<path d="M424.1 529.9h9.8l-4.9 9.2z" fill="#2c7d1d"/>
<text x="427.8" y="519.6" font-size="24.6" fill="#2c7d1d" text-anchor="middle" stroke="#2c7d1d" stroke-width="0.45">1</text>
<path d="M440.1 516.6h9.8l-4.9 9.2z" fill="#2c7d1d"/>
<text x="443.8" y="509.0" font-size="24.6" fill="#2c7d1d" text-anchor="middle" stroke="#2c7d1d" stroke-width="0.45">2</text>
<path d="M456.1 502.9h9.8l-4.9 9.2z" fill="#2c7d1d"/>
<text x="459.8" y="493.6" font-size="24.6" fill="#2c7d1d" text-anchor="middle" stroke="#2c7d1d" stroke-width="0.45">3</text>
<path d="M470.1 501.2h9.8l-4.9 9.2z" fill="#2c7d1d"/>
<text x="473.8" y="491.6" font-size="24.6" fill="#2c7d1d" text-anchor="middle" stroke="#2c7d1d" stroke-width="0.45">4</text>
<path d="M486.1 504.2h9.8l-4.9 9.2z" fill="#2c7d1d"/>
<text x="489.8" y="497.6" font-size="24.6" fill="#2c7d1d" text-anchor="middle" stroke="#2c7d1d" stroke-width="0.45">5</text>
<path d="M640.1 542.2h9.8l-4.9 9.2z" fill="#2c7d1d"/>
<text x="643.8" y="534.6" font-size="24.6" fill="#2c7d1d" text-anchor="middle" stroke="#2c7d1d" stroke-width="0.45">1</text>
<path d="M654.1 527.1h9.8l-4.9 9.2z" fill="#2c7d1d"/>
<text x="657.8" y="518.6" font-size="24.6" fill="#2c7d1d" text-anchor="middle" stroke="#2c7d1d" stroke-width="0.45">2</text>
<path d="M670.1 530.9h9.8l-4.9 9.2z" fill="#2c7d1d"/>
<text x="673.8" y="521.4" font-size="24.6" fill="#2c7d1d" text-anchor="middle" stroke="#2c7d1d" stroke-width="0.45">3</text>
<path d="M732.1 550.9h9.8l-4.9 9.2z" fill="#2c7d1d"/>
<text x="735.8" y="542.3" font-size="24.6" fill="#2c7d1d" text-anchor="middle" stroke="#2c7d1d" stroke-width="0.45">1</text>
<path d="M762.1 569.0h9.8l-4.9 9.2z" fill="#2c7d1d"/>
<text x="765.8" y="560.5" font-size="24.6" fill="#2c7d1d" text-anchor="middle" stroke="#2c7d1d" stroke-width="0.45">1</text>
<path d="M778.1 562.7h9.8l-4.9 9.2z" fill="#2c7d1d"/>
<text x="781.8" y="554.6" font-size="24.6" fill="#2c7d1d" text-anchor="middle" stroke="#2c7d1d" stroke-width="0.45">2</text>
<path d="M808.1 566.7h9.8l-4.9 9.2z" fill="#2c7d1d"/>
<text x="811.8" y="558.6" font-size="24.6" fill="#2c7d1d" text-anchor="middle" stroke="#2c7d1d" stroke-width="0.45">1</text>
<path d="M884.1 570.9h9.8l-4.9 9.2z" fill="#2c7d1d"/>
<text x="887.8" y="562.4" font-size="24.6" fill="#2c7d1d" text-anchor="middle" stroke="#2c7d1d" stroke-width="0.45">1</text>
<path d="M976.1 644.7h9.8l-4.9 9.2z" fill="#2c7d1d"/>
<text x="979.8" y="636.6" font-size="24.6" fill="#2c7d1d" text-anchor="middle" stroke="#2c7d1d" stroke-width="0.45">1</text>
<path d="M1008.1 648.0h9.8l-4.9 9.2z" fill="#2c7d1d"/>
<text x="1011.8" y="639.4" font-size="24.6" fill="#2c7d1d" text-anchor="middle" stroke="#2c7d1d" stroke-width="0.45">1</text>
<path d="M1022.1 647.0h9.8l-4.9 9.2z" fill="#2c7d1d"/>
<text x="1025.8" y="638.5" font-size="24.6" fill="#2c7d1d" text-anchor="middle" stroke="#2c7d1d" stroke-width="0.45">2</text>
<path d="M226.1 489.4h9.8l-4.9 -9z" fill="#e62e1e"/>
<text x="229.8" y="513.6" font-size="24.6" fill="#e62e1e" text-anchor="middle" stroke="#e62e1e" stroke-width="0.45">1</text>
<path d="M240.1 543.8h9.8l-4.9 -9z" fill="#e62e1e"/>
<text x="243.8" y="568.0" font-size="24.6" fill="#e62e1e" text-anchor="middle" stroke="#e62e1e" stroke-width="0.45">2</text>
<path d="M256.1 531.8h9.8l-4.9 -9z" fill="#e62e1e"/>
<text x="259.8" y="556.6" font-size="24.6" fill="#e62e1e" text-anchor="middle" stroke="#e62e1e" stroke-width="0.45">3</text>
<path d="M272.1 576.1h9.8l-4.9 -9z" fill="#e62e1e"/>
<text x="275.8" y="600.3" font-size="24.6" fill="#e62e1e" text-anchor="middle" stroke="#e62e1e" stroke-width="0.45">4</text>
<path d="M286.1 618.0h9.8l-4.9 -9z" fill="#e62e1e"/>
<text x="289.8" y="642.2" font-size="24.6" fill="#e62e1e" text-anchor="middle" stroke="#e62e1e" stroke-width="0.45">5</text>
<path d="M302.1 566.2h9.8l-4.9 -9z" fill="#e62e1e"/>
<text x="305.8" y="590.8" font-size="24.6" fill="#e62e1e" text-anchor="middle" stroke="#e62e1e" stroke-width="0.45">6</text>
<path d="M318.1 543.8h9.8l-4.9 -9z" fill="#e62e1e"/>
<text x="321.8" y="568.0" font-size="24.6" fill="#e62e1e" text-anchor="middle" stroke="#e62e1e" stroke-width="0.45">7</text>
<path d="M364.1 581.8h9.8l-4.9 -9z" fill="#e62e1e"/>
<text x="367.8" y="606.0" font-size="24.6" fill="#e62e1e" text-anchor="middle" stroke="#e62e1e" stroke-width="0.45">1</text>
<path d="M378.1 566.2h9.8l-4.9 -9z" fill="#e62e1e"/>
<text x="381.8" y="589.8" font-size="24.6" fill="#e62e1e" text-anchor="middle" stroke="#e62e1e" stroke-width="0.45">2</text>
<path d="M394.1 603.8h9.8l-4.9 -9z" fill="#e62e1e"/>
<text x="397.8" y="628.0" font-size="24.6" fill="#e62e1e" text-anchor="middle" stroke="#e62e1e" stroke-width="0.45">3</text>
<path d="M410.1 601.9h9.8l-4.9 -9z" fill="#e62e1e"/>
<text x="413.8" y="628.0" font-size="24.6" fill="#e62e1e" text-anchor="middle" stroke="#e62e1e" stroke-width="0.45">4</text>
<path d="M502.1 570.1h9.8l-4.9 -9z" fill="#e62e1e"/>
<text x="505.8" y="594.6" font-size="24.6" fill="#e62e1e" text-anchor="middle" stroke="#e62e1e" stroke-width="0.45">1</text>
<path d="M516.1 583.8h9.8l-4.9 -9z" fill="#e62e1e"/>
<text x="519.8" y="608.6" font-size="24.6" fill="#e62e1e" text-anchor="middle" stroke="#e62e1e" stroke-width="0.45">2</text>
<path d="M532.1 589.9h9.8l-4.9 -9z" fill="#e62e1e"/>
<text x="535.8" y="614.6" font-size="24.6" fill="#e62e1e" text-anchor="middle" stroke="#e62e1e" stroke-width="0.45">3</text>
<path d="M548.1 597.4h9.8l-4.9 -9z" fill="#e62e1e"/>
<text x="551.8" y="622.3" font-size="24.6" fill="#e62e1e" text-anchor="middle" stroke="#e62e1e" stroke-width="0.45">4</text>
<path d="M562.1 612.0h9.8l-4.9 -9z" fill="#e62e1e"/>
<text x="565.8" y="636.6" font-size="24.6" fill="#e62e1e" text-anchor="middle" stroke="#e62e1e" stroke-width="0.45">5</text>
<path d="M578.1 621.9h9.8l-4.9 -9z" fill="#e62e1e"/>
<text x="581.8" y="647.0" font-size="24.6" fill="#e62e1e" text-anchor="middle" stroke="#e62e1e" stroke-width="0.45">6</text>
<path d="M594.1 621.9h9.8l-4.9 -9z" fill="#e62e1e"/>
<text x="597.8" y="647.0" font-size="24.6" fill="#e62e1e" text-anchor="middle" stroke="#e62e1e" stroke-width="0.45">7</text>
<path d="M608.1 607.4h9.8l-4.9 -9z" fill="#e62e1e"/>
<text x="611.8" y="631.6" font-size="24.6" fill="#e62e1e" text-anchor="middle" stroke="#e62e1e" stroke-width="0.45">8</text>
<path d="M624.1 613.9h9.8l-4.9 -9z" fill="#e62e1e"/>
<text x="627.8" y="638.4" font-size="24.6" fill="#e62e1e" text-anchor="middle" stroke="#e62e1e" stroke-width="0.45">9</text>
<path d="M686.1 616.2h9.8l-4.9 -9z" fill="#e62e1e"/>
<text x="689.8" y="641.3" font-size="24.6" fill="#e62e1e" text-anchor="middle" stroke="#e62e1e" stroke-width="0.45">1</text>
<path d="M700.1 617.7h9.8l-4.9 -9z" fill="#e62e1e"/>
<text x="703.8" y="642.2" font-size="24.6" fill="#e62e1e" text-anchor="middle" stroke="#e62e1e" stroke-width="0.45">2</text>
<path d="M716.1 610.1h9.8l-4.9 -9z" fill="#e62e1e"/>
<text x="719.8" y="634.6" font-size="24.6" fill="#e62e1e" text-anchor="middle" stroke="#e62e1e" stroke-width="0.45">3</text>
<path d="M746.1 612.0h9.8l-4.9 -9z" fill="#e62e1e"/>
<text x="749.8" y="636.6" font-size="24.6" fill="#e62e1e" text-anchor="middle" stroke="#e62e1e" stroke-width="0.45">1</text>
<path d="M792.1 606.7h9.8l-4.9 -9z" fill="#e62e1e"/>
<text x="795.8" y="629.9" font-size="24.6" fill="#e62e1e" text-anchor="middle" stroke="#e62e1e" stroke-width="0.45">1</text>
<path d="M824.1 613.9h9.8l-4.9 -9z" fill="#e62e1e"/>
<text x="827.8" y="638.5" font-size="24.6" fill="#e62e1e" text-anchor="middle" stroke="#e62e1e" stroke-width="0.45">1</text>
<path d="M838.1 612.0h9.8l-4.9 -9z" fill="#e62e1e"/>
<text x="841.8" y="637.5" font-size="24.6" fill="#e62e1e" text-anchor="middle" stroke="#e62e1e" stroke-width="0.45">2</text>
<path d="M854.1 605.7h9.8l-4.9 -9z" fill="#e62e1e"/>
<text x="857.8" y="630.9" font-size="24.6" fill="#e62e1e" text-anchor="middle" stroke="#e62e1e" stroke-width="0.45">3</text>
<path d="M870.1 609.4h9.8l-4.9 -9z" fill="#e62e1e"/>
<text x="873.8" y="634.6" font-size="24.6" fill="#e62e1e" text-anchor="middle" stroke="#e62e1e" stroke-width="0.45">4</text>
<path d="M900.1 640.0h9.8l-4.9 -9z" fill="#e62e1e"/>
<text x="903.8" y="664.2" font-size="24.6" fill="#e62e1e" text-anchor="middle" stroke="#e62e1e" stroke-width="0.45">1</text>
<path d="M916.1 705.6h9.8l-4.9 -9z" fill="#e62e1e"/>
<text x="919.8" y="729.8" font-size="24.6" fill="#e62e1e" text-anchor="middle" stroke="#e62e1e" stroke-width="0.45">2</text>
<path d="M930.1 704.1h9.8l-4.9 -9z" fill="#e62e1e"/>
<text x="933.8" y="727.9" font-size="24.6" fill="#e62e1e" text-anchor="middle" stroke="#e62e1e" stroke-width="0.45">3</text>
<path d="M946.1 719.9h9.8l-4.9 -9z" fill="#e62e1e"/>
<text x="949.8" y="745.1" font-size="24.6" fill="#e62e1e" text-anchor="middle" stroke="#e62e1e" stroke-width="0.45">4</text>
<path d="M962.1 723.7h9.8l-4.9 -9z" fill="#e62e1e"/>
<text x="965.8" y="747.9" font-size="24.6" fill="#e62e1e" text-anchor="middle" stroke="#e62e1e" stroke-width="0.45">5</text>
<path d="M992.1 701.8h9.8l-4.9 -9z" fill="#e62e1e"/>
<text x="995.8" y="727.0" font-size="24.6" fill="#e62e1e" text-anchor="middle" stroke="#e62e1e" stroke-width="0.45">1</text>
<path d="M1038.1 704.1h9.8l-4.9 -9z" fill="#e62e1e"/>
<text x="1041.8" y="727.9" font-size="24.6" fill="#e62e1e" text-anchor="middle" stroke="#e62e1e" stroke-width="0.45">1</text>
<text x="1119.3" y="603.0" font-size="39.5" fill="#e8392b" font-family="'DejaVu Sans', Verdana, sans-serif" textLength="511.5" lengthAdjust="spacingAndGlyphs">Death Cross 50-100w MA</text>
<rect x="6" y="398.8" width="1961.8" height="4" fill="#e83af0"/>
<text x="1912.0" y="393.0" font-size="24" fill="#2f6b52" textLength="46.5" lengthAdjust="spacingAndGlyphs">ATH</text>
<line x1="431" y1="82" x2="431" y2="1262" stroke="#8c8c8c" stroke-width="2" stroke-dasharray="10 12.1"/>
<line x1="6" y1="1003.3" x2="1934" y2="1003.3" stroke="#8c8c8c" stroke-width="2" stroke-dasharray="10 12"/>
</g>
<rect x="30.8" y="107.2" width="24.4" height="24" rx="4" fill="#fff" stroke="#6b6f82" stroke-width="1.6"/>
<path d="M35 119.3h16.2" stroke="#6b6f82" stroke-width="1.8"/>
<path d="M75.7 106.8h24.2l-7 12.5 7 12.5h-24.2z" fill="#c3c6d0"/>
<text x="107.8" y="130.3" font-size="34" fill="#4c4c4c" textLength="105.6" lengthAdjust="spacingAndGlyphs" stroke="#4c4c4c" stroke-width="0.3">Bitcoin</text>
<text x="232.8" y="130.3" font-size="34" fill="#4c4c4c" text-anchor="middle" textLength="10.6" lengthAdjust="spacingAndGlyphs" stroke="#4c4c4c" stroke-width="0.3">/</text>
<text x="252.3" y="130.3" font-size="34" fill="#4c4c4c" textLength="99.6" lengthAdjust="spacingAndGlyphs" stroke="#4c4c4c" stroke-width="0.3">Dollar,</text>
<text x="365.9" y="130.3" font-size="34" fill="#4c4c4c" textLength="55.0" lengthAdjust="spacingAndGlyphs" stroke="#4c4c4c" stroke-width="0.3">1W,</text>
<text x="434.0" y="130.3" font-size="34" fill="#4c4c4c" textLength="144.1" lengthAdjust="spacingAndGlyphs" stroke="#4c4c4c" stroke-width="0.3">BITSTAMP</text>
<path d="M587.5 115.2L594.0 121.0L600.6 115.2" fill="none" stroke="#10121f" stroke-width="2.5"/>
<text x="657.5" y="130.7" font-size="34" fill="#4c4c4c" textLength="21.5" lengthAdjust="spacingAndGlyphs" stroke="#4c4c4c" stroke-width="0.3">O</text>
<text x="680.0" y="130.7" font-size="34" fill="#6ab58a" textLength="118.0" lengthAdjust="spacingAndGlyphs" stroke="#6ab58a" stroke-width="0.3">7027.26</text>
<text x="820.0" y="130.7" font-size="34" fill="#4c4c4c" textLength="20.5" lengthAdjust="spacingAndGlyphs" stroke="#4c4c4c" stroke-width="0.3">H</text>
<text x="842.5" y="130.7" font-size="34" fill="#6ab58a" textLength="118.0" lengthAdjust="spacingAndGlyphs" stroke="#6ab58a" stroke-width="0.3">8417.00</text>
<text x="982.5" y="130.7" font-size="34" fill="#4c4c4c" textLength="14.0" lengthAdjust="spacingAndGlyphs" stroke="#4c4c4c" stroke-width="0.3">L</text>
<text x="997.5" y="130.7" font-size="34" fill="#6ab58a" textLength="119.0" lengthAdjust="spacingAndGlyphs" stroke="#6ab58a" stroke-width="0.3">6611.49</text>
<text x="1138.0" y="130.7" font-size="34" fill="#4c4c4c" textLength="19.0" lengthAdjust="spacingAndGlyphs" stroke="#4c4c4c" stroke-width="0.3">C</text>
<text x="1158.5" y="130.7" font-size="34" fill="#6ab58a" textLength="118.0" lengthAdjust="spacingAndGlyphs" stroke="#6ab58a" stroke-width="0.3">8354.22</text>
<text x="1297.5" y="130.7" font-size="34" fill="#6ab58a" textLength="136.7" lengthAdjust="spacingAndGlyphs" stroke="#6ab58a" stroke-width="0.3">+1326.96</text>
<text x="1447.0" y="130.7" font-size="34" fill="#6ab58a" textLength="144.7" lengthAdjust="spacingAndGlyphs" stroke="#6ab58a" stroke-width="0.3">(+18.88%)</text>
<text x="29.8" y="179.6" font-size="27" fill="#4a4a4a" textLength="38.2" lengthAdjust="spacingAndGlyphs" stroke="#4a4a4a" stroke-width="0.3">Vol</text>
<text x="77.2" y="179.6" font-size="27" fill="#4a4a4a" textLength="48.5" lengthAdjust="spacingAndGlyphs" stroke="#4a4a4a" stroke-width="0.3">(20)</text>
<path d="M136.6 169.2L143.1 174.9L149.7 169.2" fill="none" stroke="#10121f" stroke-width="2.5"/>
<rect x="172.0" y="155.9" width="27.8" height="27.8" rx="3.2" fill="#c1c4ce"/>
<path d="M174.9 169.8Q179.9 160.4 185.9 160.6Q191.9 160.4 196.9 169.8Q191.9 179.2 185.9 179.0Q179.9 179.2 174.9 169.8z" fill="#fff"/>
<circle cx="185.9" cy="169.8" r="6.1" fill="#c1c4ce"/><circle cx="185.9" cy="169.8" r="2.3" fill="#fff"/>
<rect x="206.0" y="155.9" width="27.8" height="27.8" rx="3.2" fill="#c1c4ce"/>
<path d="M227.26 167.92L230.05 168.06L230.05 171.54L227.26 171.68L226.44 173.68L228.31 175.75L225.85 178.21L223.78 176.34L221.78 177.16L221.64 179.95L218.16 179.95L218.02 177.16L216.02 176.34L213.95 178.21L211.49 175.75L213.36 173.68L212.54 171.68L209.75 171.54L209.75 168.06L212.54 167.92L213.36 165.92L211.49 163.85L213.95 161.39L216.02 163.26L218.02 162.44L218.16 159.65L221.64 159.65L221.78 162.44L223.78 163.26L225.85 161.39L228.31 163.85L226.44 165.92z" fill="#fff" stroke="#fff" stroke-width="1" stroke-linejoin="round"/>
<circle cx="219.9" cy="169.8" r="4.1" fill="#c1c4ce"/>
<rect x="240.2" y="155.9" width="27.8" height="27.8" rx="3.2" fill="#c1c4ce"/>
<path d="M244.0 169.8h20.2M254.1 159.7v20.2" stroke="#fff" stroke-width="4" fill="none"/>
<rect x="274.2" y="155.9" width="27.8" height="27.8" rx="3.2" fill="#c1c4ce"/>
<path d="M279.4 161.1l17.4 17.4M296.8 161.1l-17.4 17.4" stroke="#fff" stroke-width="3.7" fill="none"/>
<text x="318.4" y="179.6" font-size="27" fill="#6ab58a" textLength="99.5" lengthAdjust="spacingAndGlyphs" stroke="#6ab58a" stroke-width="0.3">77.527K</text>
<text x="436.2" y="179.6" font-size="27" fill="#f0935a" textLength="112.5" lengthAdjust="spacingAndGlyphs" stroke="#f0935a" stroke-width="0.3">117.053K</text>
<rect x="1918" y="156" width="28" height="28" rx="3.2" fill="#4892e8"/>
<path d="M1924 160h16l-8 8zM1924 180h16l-8 -8z" fill="#fff"/>
<text x="28.9" y="229.6" font-size="27" fill="#4a4a4a" textLength="34.9" lengthAdjust="spacingAndGlyphs" stroke="#4a4a4a" stroke-width="0.3">TD</text>
<text x="70.9" y="229.6" font-size="27" fill="#4a4a4a" textLength="132.0" lengthAdjust="spacingAndGlyphs" stroke="#4a4a4a" stroke-width="0.3">Sequential</text>
<text x="213.4" y="229.6" font-size="27" fill="#4a4a4a" textLength="34.0" lengthAdjust="spacingAndGlyphs" stroke="#4a4a4a" stroke-width="0.3">(0)</text>
<path d="M258.5 219.3L265.0 225.0L271.5 219.3" fill="none" stroke="#10121f" stroke-width="2.5"/>
<rect x="294.0" y="205.9" width="27.8" height="27.8" rx="3.2" fill="#c1c4ce"/>
<path d="M296.9 219.8Q301.9 210.4 307.9 210.6Q313.9 210.4 318.9 219.8Q313.9 229.2 307.9 229.0Q301.9 229.2 296.9 219.8z" fill="#fff"/>
<circle cx="307.9" cy="219.8" r="6.1" fill="#c1c4ce"/><circle cx="307.9" cy="219.8" r="2.3" fill="#fff"/>
<rect x="328.0" y="205.9" width="27.8" height="27.8" rx="3.2" fill="#c1c4ce"/>
<path d="M349.26 217.92L352.05 218.06L352.05 221.54L349.26 221.68L348.44 223.68L350.31 225.75L347.85 228.21L345.78 226.34L343.78 227.16L343.64 229.95L340.16 229.95L340.02 227.16L338.02 226.34L335.95 228.21L333.49 225.75L335.36 223.68L334.54 221.68L331.75 221.54L331.75 218.06L334.54 217.92L335.36 215.92L333.49 213.85L335.95 211.39L338.02 213.26L340.02 212.44L340.16 209.65L343.64 209.65L343.78 212.44L345.78 213.26L347.85 211.39L350.31 213.85L348.44 215.92z" fill="#fff" stroke="#fff" stroke-width="1" stroke-linejoin="round"/>
<circle cx="341.9" cy="219.8" r="4.1" fill="#c1c4ce"/>
<rect x="362.0" y="205.9" width="27.8" height="27.8" rx="3.2" fill="#c1c4ce"/>
<text x="375.9" y="225.4" font-size="22" fill="#fff" text-anchor="middle" font-weight="bold" textLength="23.0" lengthAdjust="spacingAndGlyphs">{}</text>
<rect x="396.0" y="205.9" width="27.8" height="27.8" rx="3.2" fill="#c1c4ce"/>
<path d="M399.8 219.8h20.2M409.9 209.7v20.2" stroke="#fff" stroke-width="4" fill="none"/>
<rect x="430.0" y="205.9" width="27.8" height="27.8" rx="3.2" fill="#c1c4ce"/>
<path d="M435.2 211.1l17.4 17.4M452.6 211.1l-17.4 17.4" stroke="#fff" stroke-width="3.7" fill="none"/>
<text x="475.0" y="229.6" font-size="27" fill="#2c7d1d" textLength="82.0" lengthAdjust="spacingAndGlyphs" stroke="#2c7d1d" stroke-width="0.3">1.0000</text>
<text x="575.0" y="229.8" font-size="27" fill="#2c7d1d" textLength="43.0" lengthAdjust="spacingAndGlyphs" stroke="#2c7d1d" stroke-width="0.3">n/a</text>
<text x="635.6" y="229.8" font-size="27" fill="#2c7d1d" textLength="43.0" lengthAdjust="spacingAndGlyphs" stroke="#2c7d1d" stroke-width="0.3">n/a</text>
<text x="696.2" y="229.8" font-size="27" fill="#2c7d1d" textLength="43.0" lengthAdjust="spacingAndGlyphs" stroke="#2c7d1d" stroke-width="0.3">n/a</text>
<text x="756.8" y="229.8" font-size="27" fill="#2c7d1d" textLength="43.0" lengthAdjust="spacingAndGlyphs" stroke="#2c7d1d" stroke-width="0.3">n/a</text>
<text x="817.4" y="229.8" font-size="27" fill="#2c7d1d" textLength="43.0" lengthAdjust="spacingAndGlyphs" stroke="#2c7d1d" stroke-width="0.3">n/a</text>
<text x="878.0" y="229.8" font-size="27" fill="#2c7d1d" textLength="43.0" lengthAdjust="spacingAndGlyphs" stroke="#2c7d1d" stroke-width="0.3">n/a</text>
<text x="938.6" y="229.8" font-size="27" fill="#2c7d1d" textLength="43.0" lengthAdjust="spacingAndGlyphs" stroke="#2c7d1d" stroke-width="0.3">n/a</text>
<text x="999.2" y="229.8" font-size="27" fill="#2c7d1d" textLength="43.0" lengthAdjust="spacingAndGlyphs" stroke="#2c7d1d" stroke-width="0.3">n/a</text>
<text x="1059.5" y="229.8" font-size="27" fill="#e62e1e" textLength="43.0" lengthAdjust="spacingAndGlyphs" stroke="#e62e1e" stroke-width="0.3">n/a</text>
<text x="1120.3" y="229.8" font-size="27" fill="#e62e1e" textLength="43.0" lengthAdjust="spacingAndGlyphs" stroke="#e62e1e" stroke-width="0.3">n/a</text>
<text x="1181.2" y="229.8" font-size="27" fill="#e62e1e" textLength="43.0" lengthAdjust="spacingAndGlyphs" stroke="#e62e1e" stroke-width="0.3">n/a</text>
<text x="1242.0" y="229.8" font-size="27" fill="#e62e1e" textLength="43.0" lengthAdjust="spacingAndGlyphs" stroke="#e62e1e" stroke-width="0.3">n/a</text>
<text x="1302.9" y="229.8" font-size="27" fill="#e62e1e" textLength="43.0" lengthAdjust="spacingAndGlyphs" stroke="#e62e1e" stroke-width="0.3">n/a</text>
<text x="1363.8" y="229.8" font-size="27" fill="#e62e1e" textLength="43.0" lengthAdjust="spacingAndGlyphs" stroke="#e62e1e" stroke-width="0.3">n/a</text>
<text x="1424.6" y="229.8" font-size="27" fill="#e62e1e" textLength="43.0" lengthAdjust="spacingAndGlyphs" stroke="#e62e1e" stroke-width="0.3">n/a</text>
<text x="1485.5" y="229.8" font-size="27" fill="#e62e1e" textLength="43.0" lengthAdjust="spacingAndGlyphs" stroke="#e62e1e" stroke-width="0.3">n/a</text>
<text x="1546.3" y="229.8" font-size="27" fill="#e62e1e" textLength="43.0" lengthAdjust="spacingAndGlyphs" stroke="#e62e1e" stroke-width="0.3">n/a</text>
<text x="1606.0" y="229.6" font-size="27" fill="#e62e1e" textLength="112.5" lengthAdjust="spacingAndGlyphs" stroke="#e62e1e" stroke-width="0.3">210.4300</text>
<text x="1735.5" y="229.6" font-size="27" fill="#7af04c" textLength="142.0" lengthAdjust="spacingAndGlyphs" stroke="#7af04c" stroke-width="0.3">11800.0100</text>
<text x="29.8" y="279.5" font-size="27" fill="#a4a7ab" textLength="73.7" lengthAdjust="spacingAndGlyphs" stroke="#a4a7ab" stroke-width="0.3">Pivots</text>
<text x="110.4" y="279.5" font-size="27" fill="#a4a7ab" textLength="32.8" lengthAdjust="spacingAndGlyphs" stroke="#a4a7ab" stroke-width="0.3">HL</text>
<text x="152.4" y="279.5" font-size="27" fill="#a4a7ab" textLength="48.2" lengthAdjust="spacingAndGlyphs" stroke="#a4a7ab" stroke-width="0.3">(10,</text>
<text x="209.7" y="279.5" font-size="27" fill="#a4a7ab" textLength="40.0" lengthAdjust="spacingAndGlyphs" stroke="#a4a7ab" stroke-width="0.3">10)</text>
<path d="M260.6 269.1L267.1 274.9L273.7 269.1" fill="none" stroke="#a9acb3" stroke-width="2.5"/>
<rect x="296.0" y="255.8" width="27.8" height="27.8" rx="3.2" fill="#4893ea"/>
<path d="M298.9 269.7Q303.9 260.3 309.9 260.5Q315.9 260.3 320.9 269.7Q315.9 279.1 309.9 278.9Q303.9 279.1 298.9 269.7z" fill="#fff"/>
<ellipse cx="309.9" cy="269.7" rx="6" ry="5.9" fill="#4893ea"/>
<path d="M296.4 283.2L323.4 256.2" stroke="#fff" stroke-width="2.8"/>
<rect x="330.0" y="255.8" width="27.8" height="27.8" rx="3.2" fill="#c1c4ce"/>
<path d="M351.26 267.82L354.05 267.96L354.05 271.44L351.26 271.58L350.44 273.58L352.31 275.65L349.85 278.11L347.78 276.24L345.78 277.06L345.64 279.85L342.16 279.85L342.02 277.06L340.02 276.24L337.95 278.11L335.49 275.65L337.36 273.58L336.54 271.58L333.75 271.44L333.75 267.96L336.54 267.82L337.36 265.82L335.49 263.75L337.95 261.29L340.02 263.16L342.02 262.34L342.16 259.55L345.64 259.55L345.78 262.34L347.78 263.16L349.85 261.29L352.31 263.75L350.44 265.82z" fill="#fff" stroke="#fff" stroke-width="1" stroke-linejoin="round"/>
<circle cx="343.9" cy="269.7" r="4.1" fill="#c1c4ce"/>
<rect x="364.0" y="255.8" width="27.8" height="27.8" rx="3.2" fill="#c1c4ce"/>
<path d="M369.2 261.0l17.4 17.4M386.6 261.0l-17.4 17.4" stroke="#fff" stroke-width="3.7" fill="none"/>
<text x="31.5" y="329.6" font-size="27" fill="#a4a7ab" textLength="71.1" lengthAdjust="spacingAndGlyphs" stroke="#a4a7ab" stroke-width="0.3">[Vold]</text>
<text x="112.5" y="329.6" font-size="27" fill="#a4a7ab" textLength="51.7" lengthAdjust="spacingAndGlyphs" stroke="#a4a7ab" stroke-width="0.3">Five</text>
<text x="172.3" y="329.6" font-size="27" fill="#a4a7ab" textLength="85.4" lengthAdjust="spacingAndGlyphs" stroke="#a4a7ab" stroke-width="0.3">Moving</text>
<text x="266.9" y="329.6" font-size="27" fill="#a4a7ab" textLength="110.0" lengthAdjust="spacingAndGlyphs" stroke="#a4a7ab" stroke-width="0.3">Averages</text>
<text x="387.2" y="329.6" font-size="27" fill="#a4a7ab" textLength="46.5" lengthAdjust="spacingAndGlyphs" stroke="#a4a7ab" stroke-width="0.3">(21,</text>
<text x="444.7" y="329.6" font-size="27" fill="#a4a7ab" textLength="37.4" lengthAdjust="spacingAndGlyphs" stroke="#a4a7ab" stroke-width="0.3">50,</text>
<text x="493.9" y="329.6" font-size="27" fill="#a4a7ab" textLength="51.4" lengthAdjust="spacingAndGlyphs" stroke="#a4a7ab" stroke-width="0.3">100,</text>
<text x="556.4" y="329.6" font-size="27" fill="#a4a7ab" textLength="52.1" lengthAdjust="spacingAndGlyphs" stroke="#a4a7ab" stroke-width="0.3">128,</text>
<text x="617.7" y="329.6" font-size="27" fill="#a4a7ab" textLength="53.6" lengthAdjust="spacingAndGlyphs" stroke="#a4a7ab" stroke-width="0.3">200,</text>
<text x="680.1" y="329.6" font-size="27" fill="#a4a7ab" textLength="92.3" lengthAdjust="spacingAndGlyphs" stroke="#a4a7ab" stroke-width="0.3">simple)</text>
<path d="M782.2 319.2L788.8 325.0L795.3 319.2" fill="none" stroke="#a9acb3" stroke-width="2.5"/>
<rect x="818.0" y="305.9" width="27.8" height="27.8" rx="3.2" fill="#4893ea"/>
<path d="M820.9 319.8Q825.9 310.4 831.9 310.6Q837.9 310.4 842.9 319.8Q837.9 329.2 831.9 329.0Q825.9 329.2 820.9 319.8z" fill="#fff"/>
<ellipse cx="831.9" cy="319.8" rx="6" ry="5.9" fill="#4893ea"/>
<path d="M818.4 333.3L845.4 306.3" stroke="#fff" stroke-width="2.8"/>
<rect x="852.0" y="305.9" width="27.8" height="27.8" rx="3.2" fill="#c1c4ce"/>
<path d="M873.26 317.92L876.05 318.06L876.05 321.54L873.26 321.68L872.44 323.68L874.31 325.75L871.85 328.21L869.78 326.34L867.78 327.16L867.64 329.95L864.16 329.95L864.02 327.16L862.02 326.34L859.95 328.21L857.49 325.75L859.36 323.68L858.54 321.68L855.75 321.54L855.75 318.06L858.54 317.92L859.36 315.92L857.49 313.85L859.95 311.39L862.02 313.26L864.02 312.44L864.16 309.65L867.64 309.65L867.78 312.44L869.78 313.26L871.85 311.39L874.31 313.85L872.44 315.92z" fill="#fff" stroke="#fff" stroke-width="1" stroke-linejoin="round"/>
<circle cx="865.9" cy="319.8" r="4.1" fill="#c1c4ce"/>
<rect x="886.0" y="305.9" width="27.8" height="27.8" rx="3.2" fill="#c1c4ce"/>
<path d="M889.8 319.8h20.2M899.9 309.7v20.2" stroke="#fff" stroke-width="4" fill="none"/>
<rect x="920.0" y="305.9" width="27.8" height="27.8" rx="3.2" fill="#c1c4ce"/>
<path d="M925.2 311.1l17.4 17.4M942.6 311.1l-17.4 17.4" stroke="#fff" stroke-width="3.7" fill="none"/>
<text x="30.4" y="379.3" font-size="27" fill="#4a4a4a" textLength="70.3" lengthAdjust="spacingAndGlyphs" stroke="#4a4a4a" stroke-width="0.3">Triple</text>
<text x="108.7" y="379.3" font-size="27" fill="#4a4a4a" textLength="36.6" lengthAdjust="spacingAndGlyphs" stroke="#4a4a4a" stroke-width="0.3">MA</text>
<text x="152.6" y="379.3" font-size="27" fill="#4a4a4a" textLength="106.3" lengthAdjust="spacingAndGlyphs" stroke="#4a4a4a" stroke-width="0.3">Forecast</text>
<text x="269.5" y="379.3" font-size="27" fill="#4a4a4a" textLength="77.1" lengthAdjust="spacingAndGlyphs" stroke="#4a4a4a" stroke-width="0.3">(close,</text>
<text x="360.7" y="379.3" font-size="27" fill="#4a4a4a" textLength="54.1" lengthAdjust="spacingAndGlyphs" stroke="#4a4a4a" stroke-width="0.3">flat,</text>
<text x="424.7" y="379.3" font-size="27" fill="#4a4a4a" textLength="22.2" lengthAdjust="spacingAndGlyphs" stroke="#4a4a4a" stroke-width="0.3">3,</text>
<text x="458.0" y="379.3" font-size="27" fill="#4a4a4a" textLength="37.4" lengthAdjust="spacingAndGlyphs" stroke="#4a4a4a" stroke-width="0.3">50,</text>
<text x="507.2" y="379.3" font-size="27" fill="#4a4a4a" textLength="51.4" lengthAdjust="spacingAndGlyphs" stroke="#4a4a4a" stroke-width="0.3">100,</text>
<text x="568.9" y="379.3" font-size="27" fill="#4a4a4a" textLength="53.2" lengthAdjust="spacingAndGlyphs" stroke="#4a4a4a" stroke-width="0.3">200)</text>
<path d="M633.4 368.8L640.0 374.6L646.5 368.8" fill="none" stroke="#10121f" stroke-width="2.5"/>
<rect x="669.0" y="355.6" width="27.8" height="27.8" rx="3.2" fill="#c1c4ce"/>
<path d="M671.9 369.5Q676.9 360.1 682.9 360.3Q688.9 360.1 693.9 369.5Q688.9 378.9 682.9 378.7Q676.9 378.9 671.9 369.5z" fill="#fff"/>
<circle cx="682.9" cy="369.5" r="6.1" fill="#c1c4ce"/><circle cx="682.9" cy="369.5" r="2.3" fill="#fff"/>
<rect x="703.0" y="355.6" width="27.8" height="27.8" rx="3.2" fill="#c1c4ce"/>
<path d="M724.26 367.62L727.05 367.76L727.05 371.24L724.26 371.38L723.44 373.38L725.31 375.45L722.85 377.91L720.78 376.04L718.78 376.86L718.64 379.65L715.16 379.65L715.02 376.86L713.02 376.04L710.95 377.91L708.49 375.45L710.36 373.38L709.54 371.38L706.75 371.24L706.75 367.76L709.54 367.62L710.36 365.62L708.49 363.55L710.95 361.09L713.02 362.96L715.02 362.14L715.16 359.35L718.64 359.35L718.78 362.14L720.78 362.96L722.85 361.09L725.31 363.55L723.44 365.62z" fill="#fff" stroke="#fff" stroke-width="1" stroke-linejoin="round"/>
<circle cx="716.9" cy="369.5" r="4.1" fill="#c1c4ce"/>
<rect x="737.0" y="355.6" width="27.8" height="27.8" rx="3.2" fill="#c1c4ce"/>
<text x="750.9" y="375.1" font-size="22" fill="#fff" text-anchor="middle" font-weight="bold" textLength="23.0" lengthAdjust="spacingAndGlyphs">{}</text>
<rect x="771.0" y="355.6" width="27.8" height="27.8" rx="3.2" fill="#c1c4ce"/>
<path d="M774.8 369.5h20.2M784.9 359.4v20.2" stroke="#fff" stroke-width="4" fill="none"/>
<rect x="805.0" y="355.6" width="27.8" height="27.8" rx="3.2" fill="#c1c4ce"/>
<path d="M810.2 360.8l17.4 17.4M827.6 360.8l-17.4 17.4" stroke="#fff" stroke-width="3.7" fill="none"/>
<text x="849.0" y="379.3" font-size="27" fill="#42752a" textLength="126.5" lengthAdjust="spacingAndGlyphs" stroke="#42752a" stroke-width="0.3">6832.6218</text>
<text x="992.5" y="379.3" font-size="27" fill="#f0962e" textLength="127.5" lengthAdjust="spacingAndGlyphs" stroke="#f0962e" stroke-width="0.3">3818.5959</text>
<text x="1136.0" y="379.3" font-size="27" fill="#e62e1e" textLength="126.5" lengthAdjust="spacingAndGlyphs" stroke="#e62e1e" stroke-width="0.3">2085.4121</text>
<text x="1279.5" y="379.4" font-size="27" fill="#42752a" textLength="43.0" lengthAdjust="spacingAndGlyphs" stroke="#42752a" stroke-width="0.3">n/a</text>
<text x="1340.5" y="379.4" font-size="27" fill="#42752a" textLength="43.0" lengthAdjust="spacingAndGlyphs" stroke="#42752a" stroke-width="0.3">n/a</text>
<text x="1401.5" y="379.4" font-size="27" fill="#42752a" textLength="43.0" lengthAdjust="spacingAndGlyphs" stroke="#42752a" stroke-width="0.3">n/a</text>
<text x="1462.5" y="379.4" font-size="27" fill="#f0962e" textLength="43.0" lengthAdjust="spacingAndGlyphs" stroke="#f0962e" stroke-width="0.3">n/a</text>
<text x="1523.0" y="379.4" font-size="27" fill="#f0962e" textLength="43.0" lengthAdjust="spacingAndGlyphs" stroke="#f0962e" stroke-width="0.3">n/a</text>
<text x="1584.0" y="379.4" font-size="27" fill="#f0962e" textLength="43.0" lengthAdjust="spacingAndGlyphs" stroke="#f0962e" stroke-width="0.3">n/a</text>
<text x="1644.5" y="379.4" font-size="27" fill="#e62e1e" textLength="43.0" lengthAdjust="spacingAndGlyphs" stroke="#e62e1e" stroke-width="0.3">n/a</text>
<text x="1705.5" y="379.4" font-size="27" fill="#e62e1e" textLength="43.0" lengthAdjust="spacingAndGlyphs" stroke="#e62e1e" stroke-width="0.3">n/a</text>
<text x="1766.5" y="379.4" font-size="27" fill="#e62e1e" textLength="43.0" lengthAdjust="spacingAndGlyphs" stroke="#e62e1e" stroke-width="0.3">n/a</text>
<text x="30.4" y="429.4" font-size="27" fill="#4c4c4c" textLength="96.0" lengthAdjust="spacingAndGlyphs" stroke="#4c4c4c" stroke-width="0.3">Colored</text>
<text x="135.2" y="429.4" font-size="27" fill="#4c4c4c" textLength="52.5" lengthAdjust="spacingAndGlyphs" stroke="#4c4c4c" stroke-width="0.3">EMA</text>
<text x="196.1" y="429.4" font-size="27" fill="#4c4c4c" textLength="61.6" lengthAdjust="spacingAndGlyphs" stroke="#4c4c4c" stroke-width="0.3">/SMA</text>
<text x="266.9" y="429.4" font-size="27" fill="#4c4c4c" textLength="60.1" lengthAdjust="spacingAndGlyphs" stroke="#4c4c4c" stroke-width="0.3">(200,</text>
<text x="338.0" y="429.4" font-size="27" fill="#4c4c4c" textLength="54.1" lengthAdjust="spacingAndGlyphs" stroke="#4c4c4c" stroke-width="0.3">200)</text>
<path d="M402.6 418.9L409.1 424.7L415.7 418.9" fill="none" stroke="#10121f" stroke-width="2.5"/>
<rect x="438.0" y="405.7" width="27.8" height="27.8" rx="3.2" fill="#c1c4ce"/>
<path d="M440.9 419.6Q445.9 410.2 451.9 410.4Q457.9 410.2 462.9 419.6Q457.9 429.0 451.9 428.8Q445.9 429.0 440.9 419.6z" fill="#fff"/>
<circle cx="451.9" cy="419.6" r="6.1" fill="#c1c4ce"/><circle cx="451.9" cy="419.6" r="2.3" fill="#fff"/>
<rect x="472.0" y="405.7" width="27.8" height="27.8" rx="3.2" fill="#c1c4ce"/>
<path d="M493.26 417.72L496.05 417.86L496.05 421.34L493.26 421.48L492.44 423.48L494.31 425.55L491.85 428.01L489.78 426.14L487.78 426.96L487.64 429.75L484.16 429.75L484.02 426.96L482.02 426.14L479.95 428.01L477.49 425.55L479.36 423.48L478.54 421.48L475.75 421.34L475.75 417.86L478.54 417.72L479.36 415.72L477.49 413.65L479.95 411.19L482.02 413.06L484.02 412.24L484.16 409.45L487.64 409.45L487.78 412.24L489.78 413.06L491.85 411.19L494.31 413.65L492.44 415.72z" fill="#fff" stroke="#fff" stroke-width="1" stroke-linejoin="round"/>
<circle cx="485.9" cy="419.6" r="4.1" fill="#c1c4ce"/>
<rect x="506.0" y="405.7" width="27.8" height="27.8" rx="3.2" fill="#c1c4ce"/>
<text x="519.9" y="425.2" font-size="22" fill="#fff" text-anchor="middle" font-weight="bold" textLength="23.0" lengthAdjust="spacingAndGlyphs">{}</text>
<rect x="540.0" y="405.7" width="27.8" height="27.8" rx="3.2" fill="#c1c4ce"/>
<path d="M543.8 419.6h20.2M553.9 409.5v20.2" stroke="#fff" stroke-width="4" fill="none"/>
<rect x="574.0" y="405.7" width="27.8" height="27.8" rx="3.2" fill="#c1c4ce"/>
<path d="M579.2 410.9l17.4 17.4M596.6 410.9l-17.4 17.4" stroke="#fff" stroke-width="3.7" fill="none"/>
<text x="619.0" y="429.4" font-size="27" fill="#2c7d1d" textLength="125.5" lengthAdjust="spacingAndGlyphs" stroke="#2c7d1d" stroke-width="0.3">3162.4642</text>
<text x="762.5" y="429.4" font-size="27" fill="#4c4c4c" textLength="43.5" lengthAdjust="spacingAndGlyphs" stroke="#4c4c4c" stroke-width="0.3">n/a</text>
<rect x="1970" y="82" width="2" height="1180" fill="#555555"/>
<rect x="6" y="1260.5" width="1966" height="2" fill="#555555"/>
<g clip-path="url(#ca)">
<rect x="1971" y="86.0" width="9" height="2" fill="#555555"/>
<rect x="1971" y="146.0" width="9" height="2" fill="#555555"/>
<rect x="1971" y="214.0" width="9" height="2" fill="#555555"/>
<rect x="1971" y="281.7" width="9" height="2" fill="#555555"/>
<rect x="1971" y="341.6" width="9" height="2" fill="#555555"/>
<rect x="1971" y="414.0" width="9" height="2" fill="#555555"/>
<rect x="1971" y="482.0" width="9" height="2" fill="#555555"/>
<rect x="1971" y="549.6" width="9" height="2" fill="#555555"/>
<rect x="1971" y="607.5" width="9" height="2" fill="#555555"/>
<rect x="1971" y="681.6" width="9" height="2" fill="#555555"/>
<rect x="1971" y="750.0" width="9" height="2" fill="#555555"/>
<rect x="1971" y="817.9" width="9" height="2" fill="#555555"/>
<rect x="1971" y="879.6" width="9" height="2" fill="#555555"/>
<rect x="1971" y="944.0" width="9" height="2" fill="#555555"/>
<rect x="1971" y="1007.7" width="9" height="2" fill="#555555"/>
<rect x="1971" y="1069.8" width="9" height="2" fill="#555555"/>
<rect x="1971" y="1139.9" width="9" height="2" fill="#555555"/>
<rect x="1971" y="1199.6" width="9" height="2" fill="#555555"/>
<text x="1988.3" y="95.9" font-size="22" fill="#555555" textLength="102.8" lengthAdjust="spacingAndGlyphs" stroke="#555555" stroke-width="0.25">130000.00</text>
<text x="1988.3" y="155.9" font-size="22" fill="#555555" textLength="90.7" lengthAdjust="spacingAndGlyphs" stroke="#555555" stroke-width="0.25">90000.00</text>
<text x="1988.3" y="223.9" font-size="22" fill="#555555" textLength="90.7" lengthAdjust="spacingAndGlyphs" stroke="#555555" stroke-width="0.25">60000.00</text>
<text x="1988.3" y="291.6" font-size="22" fill="#555555" textLength="90.7" lengthAdjust="spacingAndGlyphs" stroke="#555555" stroke-width="0.25">40000.00</text>
<text x="1988.3" y="351.5" font-size="22" fill="#555555" textLength="90.7" lengthAdjust="spacingAndGlyphs" stroke="#555555" stroke-width="0.25">28000.00</text>
<text x="1988.3" y="423.9" font-size="22" fill="#555555" textLength="90.7" lengthAdjust="spacingAndGlyphs" stroke="#555555" stroke-width="0.25">18000.00</text>
<text x="1988.3" y="491.9" font-size="22" fill="#555555" textLength="90.7" lengthAdjust="spacingAndGlyphs" stroke="#555555" stroke-width="0.25">12000.00</text>
<text x="1988.3" y="559.5" font-size="22" fill="#555555" textLength="78.6" lengthAdjust="spacingAndGlyphs" stroke="#555555" stroke-width="0.25">8000.00</text>
<text x="1988.3" y="1079.7" font-size="22" fill="#555555" textLength="66.5" lengthAdjust="spacingAndGlyphs" stroke="#555555" stroke-width="0.25">350.00</text>
<text x="1988.3" y="1149.8" font-size="22" fill="#555555" textLength="66.5" lengthAdjust="spacingAndGlyphs" stroke="#555555" stroke-width="0.25">230.00</text>
<text x="1988.3" y="1209.5" font-size="22" fill="#555555" textLength="66.5" lengthAdjust="spacingAndGlyphs" stroke="#555555" stroke-width="0.25">160.00</text>
</g>
<rect x="1970" y="384.3" width="123.8" height="33.5" fill="#e83af0"/>
<rect x="1970" y="400.2" width="8" height="1.8" fill="#fff" fill-opacity="0.55"/>
<text x="1988.7" y="408.3" font-size="22.5" fill="#fff" textLength="87.3" lengthAdjust="spacingAndGlyphs">19690.09</text>
<rect x="1970" y="468.4" width="123.8" height="33.4" fill="#7af950"/>
<rect x="1970" y="484.2" width="8" height="1.8" fill="#000" fill-opacity="0.55"/>
<text x="1988.7" y="492.4" font-size="22.5" fill="#000" textLength="87.3" lengthAdjust="spacingAndGlyphs">11800.01</text>
<rect x="1970" y="560.0" width="112.0" height="34.0" fill="#49722a"/>
<rect x="1970" y="576.1" width="8" height="1.8" fill="#fff" fill-opacity="0.55"/>
<text x="1988.7" y="584.3" font-size="22.5" fill="#fff" textLength="75.8" lengthAdjust="spacingAndGlyphs">6795.96</text>
<rect x="1970" y="594.0" width="112.0" height="34.0" fill="#49722a"/>
<rect x="1970" y="610.1" width="8" height="1.8" fill="#fff" fill-opacity="0.55"/>
<text x="1988.7" y="618.3" font-size="22.5" fill="#fff" textLength="75.8" lengthAdjust="spacingAndGlyphs">6705.26</text>
<rect x="1970" y="628.0" width="112.0" height="34.0" fill="#49722a"/>
<rect x="1970" y="644.1" width="8" height="1.8" fill="#fff" fill-opacity="0.55"/>
<text x="1988.7" y="652.3" font-size="22.5" fill="#fff" textLength="75.8" lengthAdjust="spacingAndGlyphs">6567.49</text>
<rect x="1970" y="662.0" width="112.0" height="34.0" fill="#49722a"/>
<rect x="1970" y="678.1" width="8" height="1.8" fill="#fff" fill-opacity="0.55"/>
<text x="1988.7" y="686.3" font-size="22.5" fill="#fff" textLength="75.8" lengthAdjust="spacingAndGlyphs">6446.33</text>
<rect x="1970" y="696.0" width="112.0" height="34.0" fill="#f09b3a"/>
<rect x="1970" y="712.1" width="8" height="1.8" fill="#fff" fill-opacity="0.55"/>
<text x="1988.7" y="720.3" font-size="22.5" fill="#fff" textLength="75.8" lengthAdjust="spacingAndGlyphs">6121.29</text>
<rect x="1970" y="730.0" width="112.0" height="34.0" fill="#f09b3a"/>
<rect x="1970" y="746.1" width="8" height="1.8" fill="#fff" fill-opacity="0.55"/>
<text x="1988.7" y="754.3" font-size="22.5" fill="#fff" textLength="75.8" lengthAdjust="spacingAndGlyphs">6098.23</text>
<rect x="1970" y="764.0" width="112.0" height="34.0" fill="#f09b3a"/>
<rect x="1970" y="780.1" width="8" height="1.8" fill="#fff" fill-opacity="0.55"/>
<text x="1988.7" y="788.3" font-size="22.5" fill="#fff" textLength="75.8" lengthAdjust="spacingAndGlyphs">6075.64</text>
<rect x="1970" y="798.0" width="112.0" height="34.0" fill="#e83223"/>
<rect x="1970" y="814.1" width="8" height="1.8" fill="#fff" fill-opacity="0.55"/>
<text x="1988.7" y="822.3" font-size="22.5" fill="#fff" textLength="75.8" lengthAdjust="spacingAndGlyphs">6072.00</text>
<rect x="1970" y="832.0" width="112.0" height="34.0" fill="#f09b3a"/>
<rect x="1970" y="848.1" width="8" height="1.8" fill="#fff" fill-opacity="0.55"/>
<text x="1988.7" y="856.3" font-size="22.5" fill="#fff" textLength="75.8" lengthAdjust="spacingAndGlyphs">6052.11</text>
<rect x="1970" y="866.0" width="112.0" height="34.0" fill="#e83223"/>
<rect x="1970" y="882.1" width="8" height="1.8" fill="#fff" fill-opacity="0.55"/>
<text x="1988.7" y="890.3" font-size="22.5" fill="#fff" textLength="75.8" lengthAdjust="spacingAndGlyphs">4140.77</text>
<rect x="1970" y="900.0" width="112.0" height="34.0" fill="#3c3c3c"/>
<rect x="1970" y="916.1" width="8" height="1.8" fill="#fff" fill-opacity="0.55"/>
<text x="1988.7" y="924.3" font-size="22.5" fill="#fff" textLength="75.8" lengthAdjust="spacingAndGlyphs">3532.30</text>
<rect x="1970" y="934.0" width="112.0" height="34.0" fill="#e83223"/>
<rect x="1970" y="950.1" width="8" height="1.8" fill="#fff" fill-opacity="0.55"/>
<text x="1988.7" y="958.3" font-size="22.5" fill="#fff" textLength="75.8" lengthAdjust="spacingAndGlyphs">3315.55</text>
<rect x="1970" y="968.0" width="112.0" height="33.0" fill="#e83223"/>
<rect x="1970" y="983.6" width="8" height="1.8" fill="#fff" fill-opacity="0.55"/>
<text x="1988.7" y="991.8" font-size="22.5" fill="#fff" textLength="75.8" lengthAdjust="spacingAndGlyphs">3299.07</text>
<rect x="1970" y="1001.0" width="112.0" height="34.0" fill="#e83223"/>
<rect x="1970" y="1017.1" width="8" height="1.8" fill="#fff" fill-opacity="0.55"/>
<text x="1988.7" y="1025.3" font-size="22.5" fill="#fff" textLength="75.8" lengthAdjust="spacingAndGlyphs">3282.71</text>
<rect x="1970" y="1035.0" width="112.0" height="34.0" fill="#e83223"/>
<rect x="1970" y="1051.1" width="8" height="1.8" fill="#fff" fill-opacity="0.55"/>
<text x="1988.7" y="1059.3" font-size="22.5" fill="#fff" textLength="75.8" lengthAdjust="spacingAndGlyphs">3266.26</text>
<rect x="1866.5" y="900" width="101.2" height="33.8" fill="#3c3c3c"/>
<text x="1882.5" y="925.2" font-size="23" fill="#fff" textLength="76.0" lengthAdjust="spacingAndGlyphs">BTCUSD</text>
<rect x="1934" y="986.5" width="33.8" height="33.4" fill="#4c525e"/>
<path d="M1940 1003h22M1951 992v22.4" stroke="#c9ccd2" stroke-width="1.6" fill="none"/>
<rect x="1970" y="986.5" width="100.2" height="33.4" fill="#4c525e"/>
<rect x="1970" y="1002.3" width="8" height="1.8" fill="#fff" fill-opacity="0.55"/>
<text x="1988.7" y="1010.5" font-size="22.5" fill="#fff" textLength="64.3" lengthAdjust="spacingAndGlyphs">527.88</text>
<rect x="1970" y="1168.0" width="114.0" height="33.6" fill="#f19c60"/>
<rect x="1970" y="1183.9" width="8" height="1.8" fill="#000" fill-opacity="0.55"/>
<text x="1988.7" y="1192.1" font-size="22.5" fill="#000" textLength="76.9" lengthAdjust="spacingAndGlyphs">53.649K</text>
<g clip-path="url(#ca)">
<rect x="1970" y="1236.0" width="101.7" height="34.0" fill="#6fb98d"/>
<rect x="1970" y="1250.7" width="8" height="1.8" fill="#fff" fill-opacity="0.55"/>
<text x="1988.7" y="1258.9" font-size="22.5" fill="#fff" textLength="65.4" lengthAdjust="spacingAndGlyphs">2.592K</text>
</g>
<defs><clipPath id="ct"><rect x="6" y="1260" width="2102" height="50"/></clipPath></defs><g clip-path="url(#ct)">
<rect x="16.0" y="1262" width="2.2" height="6" fill="#555555"/>
<text x="16.2" y="1296.2" font-size="22.5" fill="#555555" text-anchor="middle">Oct</text>
<rect x="216.0" y="1262" width="2.2" height="6" fill="#555555"/>
<text x="216.2" y="1296.2" font-size="22.5" fill="#555555" text-anchor="middle">2018</text>
<rect x="614.0" y="1262" width="2.2" height="6" fill="#555555"/>
<text x="614.2" y="1296.2" font-size="22.5" fill="#555555" text-anchor="middle">Jul</text>
<rect x="814.0" y="1262" width="2.2" height="6" fill="#555555"/>
<text x="814.2" y="1296.2" font-size="22.5" fill="#555555" text-anchor="middle">Oct</text>
<rect x="1028.0" y="1262" width="2.2" height="6" fill="#555555"/>
<text x="1028.2" y="1296.2" font-size="22.5" fill="#555555" text-anchor="middle">2019</text>
<rect x="1212.0" y="1262" width="2.2" height="6" fill="#555555"/>
<text x="1212.2" y="1296.2" font-size="22.5" fill="#555555" text-anchor="middle">Apr</text>
<rect x="1412.0" y="1262" width="2.2" height="6" fill="#555555"/>
<text x="1412.2" y="1296.2" font-size="22.5" fill="#555555" text-anchor="middle">Jul</text>
<rect x="1628.0" y="1262" width="2.2" height="6" fill="#555555"/>
<text x="1628.2" y="1296.2" font-size="22.5" fill="#555555" text-anchor="middle">Oct</text>
<rect x="1826.2" y="1262" width="2.2" height="6" fill="#555555"/>
<text x="1826.4" y="1296.2" font-size="22.5" fill="#555555" text-anchor="middle">2020</text>
</g>
<path d="M369.9 1260.5h119.9v41.3a2 2 0 0 1 -2 2h-115.9a2 2 0 0 1 -2 -2z" fill="#4c525e"/>
<text x="381.2" y="1290.0" font-size="23" fill="#fff" textLength="23.7" lengthAdjust="spacingAndGlyphs">09</text>
<text x="411.0" y="1290.0" font-size="23" fill="#fff" textLength="34.6" lengthAdjust="spacingAndGlyphs">Apr</text>
<text x="451.7" y="1290.0" font-size="23" fill="#fff" textLength="27.4" lengthAdjust="spacingAndGlyphs">'18</text>
<rect x="430" y="1260.5" width="2" height="7.4" fill="#b4b5bb"/>
<path d="M5.5 0H206.0V67.5a6.5 6.5 0 0 1 -6.5 6.5H12.0a6.5 6.5 0 0 1 -6.5 -6.5z" fill="#fff"/>
<path d="M208.0 0H780.7V67.5a6.5 6.5 0 0 1 -6.5 6.5H214.5a6.5 6.5 0 0 1 -6.5 -6.5z" fill="#fff"/>
<path d="M782.7 0H859.0V67.5a6.5 6.5 0 0 1 -6.5 6.5H789.2a6.5 6.5 0 0 1 -6.5 -6.5z" fill="#fff"/>
<path d="M861.0 0H937.0V67.5a6.5 6.5 0 0 1 -6.5 6.5H867.5a6.5 6.5 0 0 1 -6.5 -6.5z" fill="#fff"/>
<path d="M939.0 0H1014.7V67.5a6.5 6.5 0 0 1 -6.5 6.5H945.5a6.5 6.5 0 0 1 -6.5 -6.5z" fill="#fff"/>
<path d="M1016.7 0H1093.0V67.5a6.5 6.5 0 0 1 -6.5 6.5H1023.2a6.5 6.5 0 0 1 -6.5 -6.5z" fill="#fff"/>
<path d="M1095.0 0H1171.2V67.5a6.5 6.5 0 0 1 -6.5 6.5H1101.5a6.5 6.5 0 0 1 -6.5 -6.5z" fill="#fff"/>
<path d="M1173.0 0H1249.2V67.5a6.5 6.5 0 0 1 -6.5 6.5H1179.5a6.5 6.5 0 0 1 -6.5 -6.5z" fill="#fff"/>
<path d="M1251.0 0H1375.3V67.5a6.5 6.5 0 0 1 -6.5 6.5H1257.5a6.5 6.5 0 0 1 -6.5 -6.5z" fill="#fff"/>
<path d="M1378.5 0H1455.0V67.5a6.5 6.5 0 0 1 -6.5 6.5H1385.0a6.5 6.5 0 0 1 -6.5 -6.5z" fill="#fff"/>
<path d="M1457.0 0H1742.0V67.5a6.5 6.5 0 0 1 -6.5 6.5H1463.5a6.5 6.5 0 0 1 -6.5 -6.5z" fill="#fff"/>
<path d="M1744.0 0H1820.4V67.5a6.5 6.5 0 0 1 -6.5 6.5H1750.5a6.5 6.5 0 0 1 -6.5 -6.5z" fill="#fff"/>
<text x="30.2" y="46.3" font-size="29" fill="#4a4a4a" textLength="102.5" lengthAdjust="spacingAndGlyphs" stroke="#4a4a4a" stroke-width="0.8">BTCUSD</text>
<text x="224.9" y="46.3" font-size="29" fill="#141625" textLength="36.0" lengthAdjust="spacingAndGlyphs" stroke="#141625" stroke-width="0.3">5m</text>
<text x="287.0" y="46.3" font-size="29" fill="#141625" textLength="50.0" lengthAdjust="spacingAndGlyphs" stroke="#141625" stroke-width="0.3">15m</text>
<text x="363.5" y="46.3" font-size="29" fill="#141625" textLength="49.7" lengthAdjust="spacingAndGlyphs" stroke="#141625" stroke-width="0.3">30m</text>
<text x="441.0" y="46.3" font-size="29" fill="#141625" textLength="26.7" lengthAdjust="spacingAndGlyphs" stroke="#141625" stroke-width="0.3">1h</text>
<text x="492.6" y="46.3" font-size="29" fill="#141625" textLength="29.0" lengthAdjust="spacingAndGlyphs" stroke="#141625" stroke-width="0.3">4h</text>
<text x="548.8" y="46.3" font-size="29" fill="#141625" textLength="42.1" lengthAdjust="spacingAndGlyphs" stroke="#141625" stroke-width="0.3">12h</text>
<text x="616.5" y="46.3" font-size="29" fill="#141625" textLength="16.0" lengthAdjust="spacingAndGlyphs" stroke="#141625" stroke-width="0.3">D</text>
<text x="657.5" y="46.3" font-size="29" fill="#4a90e2" textLength="23.5" lengthAdjust="spacingAndGlyphs" stroke="#4a90e2" stroke-width="0.3">W</text>
<text x="704.5" y="46.3" font-size="29" fill="#141625" textLength="20.5" lengthAdjust="spacingAndGlyphs" stroke="#141625" stroke-width="0.3">M</text>
<path d="M753.0 33.0L760.2 39.8L767.4 33.0" fill="none" stroke="#1c2030" stroke-width="2.2"/>
<path d="M809.3 23.6h7.4v24.4h-7.4zM813 16.3v7.3M813 48v7.7M825.6 29.8h6.8v11.8h-6.8zM829 22v7.8M829 41.6v8" fill="none" stroke="#141625" stroke-width="2"/>
<circle cx="896.8" cy="36.9" r="18.2" fill="none" stroke="#141625" stroke-width="2"/><path d="M888 36.9h17.6M896.8 28.1v17.6" fill="none" stroke="#141625" stroke-width="2"/>
<path d="M958.5 43.2L966.6 35.2Q970.8 31 975.1 35.2L979.5 39.5Q983 42.8 986.9 38.9L995.6 30.6" fill="none" stroke="#141625" stroke-width="2" stroke-linecap="round"/>
<path d="M1036.5 31.1L1044.7 22.9Q1049 18.8 1053.4 22.9L1057.2 26.6Q1060.8 30 1064.8 26.4L1073.6 18.6M1036.5 41.1L1044.7 32.9Q1049 28.8 1053.4 32.9L1057.2 36.6Q1060.8 40 1064.8 36.4L1073.6 28.6" fill="none" stroke="#141625" stroke-width="2" stroke-linecap="round"/>
<path d="M1036 51h2.1M1043 44.3v7.6M1049 40.2v11.7M1055.1 44.3v7.6M1061 48.1v3.8M1067 44.3v7.6M1073.1 38.3v13.6" fill="none" stroke="#141625" stroke-width="2"/>
<path d="M1147.25 36.8A16.2 16.2 0 1 0 1131.05 53" fill="none" stroke="#141625" stroke-width="2"/><path d="M1131.05 26.3v10.8h-7" fill="none" stroke="#141625" stroke-width="2"/>
<path d="M1115.3 32.7A7.7 7.7 0 1 1 1126.7 21M1135.4 21A7.7 7.7 0 1 1 1146.8 32.9" fill="none" stroke="#141625" stroke-width="2"/>
<path d="M1134.2 48.9h17.6M1142.9 40.2v17.6" fill="none" stroke="#141625" stroke-width="2"/>
<path d="M1197 37.1l12.5 -11.8v23.6zM1212.8 37.1l12.5 -11.8v23.6z" fill="none" stroke="#141625" stroke-width="2" stroke-linejoin="miter"/>
<path d="M1278.2 25.9l-7.6 7 7.6 7M1271 32.9h12.4q11.6 0 11.8 13" fill="none" stroke="#141625" stroke-width="2"/>
<path d="M1344 25.9l7.6 7 -7.6 7M1351.2 32.9h-12.4q-11.6 0 -11.8 13" fill="none" stroke="#b8bac0" stroke-width="2"/>
<rect x="1399.1" y="21" width="35.7" height="32" rx="5" fill="none" stroke="#141625" stroke-width="2"/>
<path d="M1478.5 51h29.5a8.55 8.55 0 0 0 2.3 -16.9a14.6 14.6 0 0 0 -27.8 -4.2a10.8 10.8 0 0 0 -4 21.1z" fill="none" stroke="#141625" stroke-width="2" stroke-dasharray="6.6 3.5"/>
<text x="1526.0" y="46.3" font-size="29" fill="#141625" textLength="58.7" lengthAdjust="spacingAndGlyphs" stroke="#141625" stroke-width="0.3">Sevo</text>
<text x="1591.9" y="46.3" font-size="29" fill="#141625" textLength="98.6" lengthAdjust="spacingAndGlyphs" stroke="#141625" stroke-width="0.3">BTCUSD</text>
<path d="M1715.0 33.0L1722.2 39.8L1729.4 33.0" fill="none" stroke="#1c2030" stroke-width="2.2"/>
<path d="M1796.0 33.4L1800.8 33.9L1800.8 38.9L1796.0 39.4L1793.9 44.3L1797.0 48.2L1793.5 51.7L1789.6 48.6L1784.7 50.7L1784.2 55.5L1779.2 55.5L1778.7 50.7L1773.8 48.6L1769.9 51.7L1766.4 48.2L1769.5 44.3L1767.4 39.4L1762.6 38.9L1762.6 33.9L1767.4 33.4L1769.5 28.5L1766.4 24.6L1769.9 21.1L1773.8 24.2L1778.7 22.1L1779.2 17.3L1784.2 17.3L1784.7 22.1L1789.6 24.2L1793.5 21.1L1797.0 24.6L1793.9 28.5z" fill="none" stroke="#141625" stroke-width="2" stroke-linejoin="round"/><circle cx="1781.7" cy="36.4" r="5.6" fill="none" stroke="#141625" stroke-width="2"/>
<rect x="1822" y="0" width="48.5" height="74" fill="#676a78"/>
<path d="M1843 23h11l-8 8M1843 50h11l-8 -8M1870 23h-6M1870 50h-6" fill="none" stroke="#2a2d3c" stroke-width="2.2"/>
<path d="M1837.5 20.6l17.5 15.8 -17.5 15.8" fill="none" stroke="#fff" stroke-width="2.6"/>
<path d="M1870 0H2108.2V65.5a8.5 8.5 0 0 1 -8.5 8.5H1870z" fill="#4a94ea"/>
<rect x="2030" y="0" width="2.2" height="74" fill="#fff"/>
<text x="1903.2" y="46.8" font-size="30" fill="#fff" textLength="94.0" lengthAdjust="spacingAndGlyphs" stroke="#fff" stroke-width="0.3">Publish</text>
<circle cx="2069" cy="36.8" r="20" fill="none" stroke="#fff" stroke-width="2"/><path d="M2063.7 29v16.4l12.4 -8.2z" fill="#fff"/>
</svg></body></html>
